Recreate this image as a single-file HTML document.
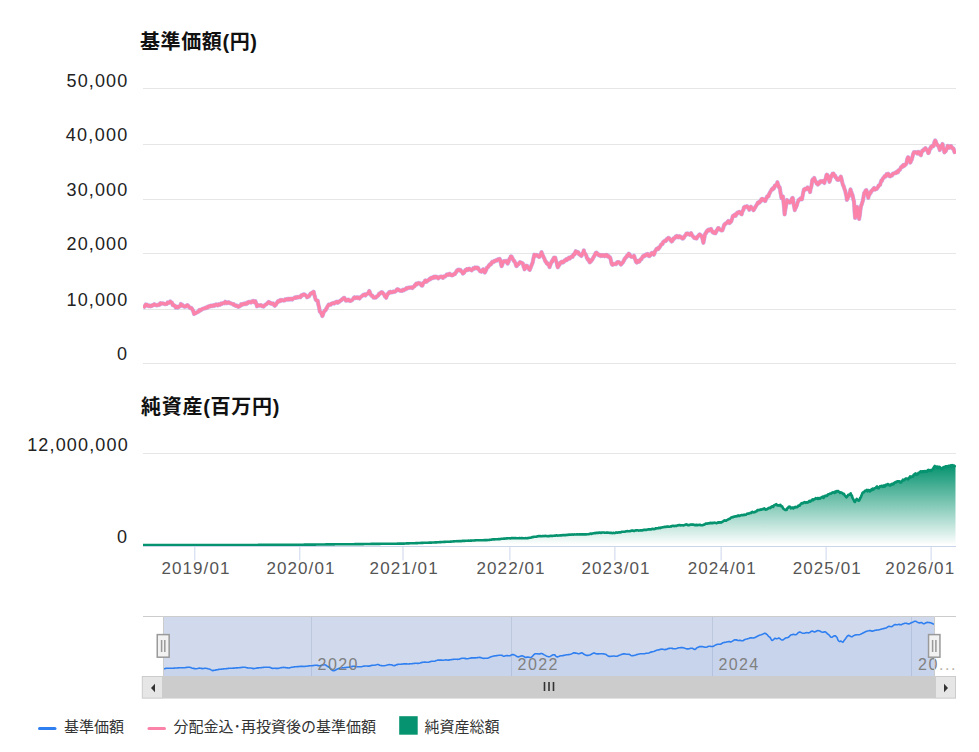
<!DOCTYPE html>
<html lang="ja"><head><meta charset="utf-8"><title>chart</title><style>
html,body{margin:0;padding:0;background:#fff;width:979px;height:752px;overflow:hidden}
svg{display:block;position:absolute;left:0;top:0}
text{font-family:"Liberation Sans","Noto Sans CJK JP",sans-serif}
.t{font-size:20px;font-weight:bold;fill:#111}
.yl{font-size:18px;fill:#222;text-anchor:end}
.xl{font-size:17px;fill:#555;text-anchor:middle}
.nl{font-size:16px;fill:#808080}
.lg{font-size:15px;fill:#333}
</style></head><body>
<svg width="979" height="752" viewBox="0 0 979 752">
<defs><linearGradient id="gg" x1="0" y1="0" x2="0" y2="1"><stop offset="0" stop-color="#06936f" stop-opacity="1"/><stop offset="1" stop-color="#06936f" stop-opacity="0"/></linearGradient><clipPath id="cp1"><rect x="143" y="60" width="813" height="310"/></clipPath><clipPath id="cp2"><rect x="143" y="440" width="813" height="106"/></clipPath></defs>
<text x="140" y="49.3" class="t" textLength="117" lengthAdjust="spacing">基準価額(円)</text>
<text x="141" y="413.9" class="t" textLength="138.5" lengthAdjust="spacing">純資産(百万円)</text>
<rect x="143" y="88" width="813" height="1" fill="#e6e6e6"/>
<rect x="143" y="144" width="813" height="1" fill="#e6e6e6"/>
<rect x="143" y="199" width="813" height="1" fill="#e6e6e6"/>
<rect x="143" y="253" width="813" height="1" fill="#e6e6e6"/>
<rect x="143" y="309" width="813" height="1" fill="#e6e6e6"/>
<rect x="143" y="363" width="813" height="1" fill="#e6e6e6"/>
<text x="127.2" y="86.6" class="yl" textLength="60.6" lengthAdjust="spacing">50,000</text>
<text x="127.2" y="140.9" class="yl" textLength="61.4" lengthAdjust="spacing">40,000</text>
<text x="127.2" y="195.6" class="yl" textLength="60.6" lengthAdjust="spacing">30,000</text>
<text x="127.2" y="249.8" class="yl" textLength="60.6" lengthAdjust="spacing">20,000</text>
<text x="127.2" y="305.7" class="yl" textLength="60.6" lengthAdjust="spacing">10,000</text>
<text x="127.0" y="360.0" class="yl">0</text>
<g clip-path="url(#cp1)">
<path d="M143.1,307.7L143.5,307.4L144.0,306.9L144.4,306.7L144.8,306.4L145.2,305.3L145.7,304.5L146.1,304.8L146.6,304.7L147.0,304.6L147.5,305.6L147.9,305.5L148.4,306.0L148.8,305.8L149.3,306.0L149.7,305.5L150.2,305.9L150.7,306.3L151.1,306.0L151.6,306.0L152.0,305.9L152.5,305.1L152.9,305.4L153.4,305.3L153.8,304.9L154.3,304.2L154.8,304.9L155.2,304.8L155.7,305.0L156.1,305.3L156.6,305.2L157.0,305.4L157.5,304.9L157.9,305.0L158.4,304.6L158.8,304.9L159.3,305.0L159.7,303.9L160.2,303.3L160.6,303.1L161.1,303.8L161.5,303.5L161.9,303.7L162.4,303.4L162.8,303.5L163.2,303.5L163.6,303.5L164.1,303.8L164.5,304.0L164.9,304.2L165.4,304.0L165.8,304.1L166.3,304.0L166.7,304.0L167.2,303.5L167.6,302.4L168.0,302.7L168.5,302.9L168.9,302.9L169.3,302.4L169.7,302.2L170.2,301.4L170.6,301.7L171.0,302.2L171.4,302.4L171.9,302.6L172.3,303.9L172.7,305.1L173.1,304.6L173.6,305.4L174.0,305.6L174.5,305.5L174.9,305.8L175.4,306.7L175.8,307.5L176.3,306.8L176.8,307.2L177.3,306.8L177.8,307.5L178.2,306.8L178.7,307.0L179.1,307.0L179.6,306.2L180.0,306.2L180.5,305.1L180.9,304.0L181.3,304.7L181.8,304.5L182.2,304.8L182.6,305.4L183.0,306.1L183.5,306.1L183.9,306.1L184.3,306.7L184.8,306.2L185.2,306.7L185.7,306.7L186.2,305.9L186.6,305.5L187.1,305.2L187.5,305.1L187.9,305.6L188.3,306.0L188.8,306.5L189.2,307.3L189.6,307.5L190.0,307.6L190.4,308.0L190.8,307.8L191.3,307.8L191.7,308.7L192.1,308.8L192.6,310.1L193.1,310.8L193.6,312.3L194.1,314.0L194.5,313.2L195.0,313.4L195.4,313.4L195.8,312.6L196.3,312.7L196.7,312.5L197.1,312.4L197.6,311.9L198.1,311.8L198.5,311.7L198.9,310.6L199.4,309.9L199.9,310.1L200.3,310.5L200.8,309.8L201.2,309.6L201.7,309.6L202.1,309.1L202.6,308.9L203.0,308.6L203.5,308.5L203.9,308.6L204.4,308.2L204.9,308.0L205.3,308.3L205.8,307.5L206.3,307.6L206.7,307.8L207.2,307.3L207.6,306.8L208.1,307.2L208.6,306.6L209.0,306.2L209.5,306.1L209.9,306.4L210.4,305.8L210.8,305.6L211.3,305.5L211.7,306.0L212.2,305.8L212.6,306.1L213.1,305.4L213.5,305.1L214.0,305.4L214.4,305.8L214.9,305.4L215.3,304.9L215.8,304.5L216.2,304.8L216.7,304.5L217.1,305.0L217.6,305.4L218.1,304.6L218.5,304.3L219.0,304.8L219.4,304.7L219.9,304.9L220.3,304.3L220.8,303.7L221.2,303.5L221.7,304.0L222.2,303.5L222.6,303.2L223.1,303.1L223.5,303.0L224.0,302.8L224.4,303.3L224.9,302.5L225.3,301.8L225.8,302.6L226.2,302.9L226.7,303.2L227.1,302.6L227.6,302.9L228.0,303.0L228.5,302.2L228.9,302.3L229.3,302.9L229.8,303.2L230.2,303.3L230.6,303.2L231.0,303.4L231.5,303.6L231.9,303.6L232.4,304.1L232.8,304.1L233.3,304.7L233.7,304.1L234.2,304.9L234.6,305.1L235.1,305.5L235.5,305.8L236.0,305.9L236.4,306.0L236.8,305.6L237.3,306.4L237.7,306.4L238.1,306.8L238.5,306.8L239.0,306.5L239.4,306.0L239.8,306.2L240.2,305.8L240.7,305.0L241.1,304.3L241.6,304.8L242.0,304.5L242.5,304.7L242.9,304.2L243.4,303.7L243.8,303.8L244.3,304.1L244.7,303.5L245.2,303.8L245.6,304.1L246.1,304.0L246.5,303.9L247.0,302.7L247.4,302.8L247.9,303.1L248.3,302.1L248.8,301.9L249.2,301.8L249.7,302.0L250.1,302.0L250.6,302.1L251.0,302.5L251.5,301.7L251.9,301.3L252.4,301.2L252.8,301.0L253.3,300.9L253.7,301.9L254.1,302.3L254.5,301.5L255.0,301.5L255.4,301.3L255.8,302.3L256.2,303.5L256.6,305.0L257.0,306.3L257.4,306.0L257.8,305.5L258.2,305.4L258.7,305.1L259.1,305.4L259.5,305.7L260.0,305.6L260.4,305.2L260.9,305.1L261.3,305.3L261.8,305.8L262.2,306.3L262.7,306.1L263.1,306.5L263.6,306.6L264.1,305.9L264.6,305.3L265.1,304.9L265.6,304.8L266.0,304.3L266.5,304.2L266.9,303.7L267.4,303.1L267.8,302.9L268.3,302.9L268.7,302.0L269.1,302.2L269.6,302.3L270.0,303.0L270.5,303.5L270.9,303.1L271.4,303.6L271.8,303.8L272.2,303.5L272.7,303.7L273.1,303.5L273.5,304.4L273.9,304.8L274.4,305.5L274.8,305.8L275.2,305.3L275.7,304.9L276.1,304.2L276.6,303.1L277.0,302.9L277.5,301.9L277.9,301.3L278.4,301.8L278.8,301.1L279.3,300.7L279.8,300.3L280.2,301.1L280.7,300.5L281.1,299.9L281.6,300.5L282.1,299.9L282.5,300.4L283.0,300.3L283.5,300.5L283.9,300.7L284.4,300.3L284.9,300.4L285.3,299.3L285.8,299.7L286.2,299.5L286.7,299.6L287.2,298.9L287.6,299.2L288.1,299.6L288.6,298.8L289.0,298.7L289.5,299.0L289.9,299.5L290.4,299.0L290.8,298.7L291.3,298.6L291.7,299.1L292.2,299.5L292.7,299.1L293.1,298.7L293.6,298.4L294.0,298.1L294.5,297.9L294.9,297.3L295.4,297.4L295.8,297.9L296.3,297.4L296.8,297.6L297.2,296.9L297.7,297.2L298.1,297.3L298.6,297.3L299.0,297.0L299.5,296.8L299.9,296.8L300.4,297.2L300.8,296.1L301.3,295.3L301.7,295.5L302.1,295.7L302.5,295.2L303.0,294.6L303.4,294.5L303.9,294.3L304.3,294.4L304.8,294.5L305.2,295.2L305.7,295.4L306.1,295.5L306.6,296.3L307.0,297.3L307.5,297.0L307.9,296.9L308.4,296.3L308.8,296.4L309.3,295.9L309.7,295.0L310.2,294.3L310.6,293.5L311.0,293.6L311.5,293.3L311.9,292.8L312.4,292.6L312.8,292.3L313.3,292.6L313.7,291.8L314.2,294.4L314.7,296.0L315.2,297.9L315.7,299.6L316.2,300.2L316.7,300.7L317.2,300.7L317.7,300.7L318.1,303.0L318.5,305.3L319.0,306.9L319.4,309.2L319.8,311.6L320.2,311.9L320.6,312.2L321.1,312.7L321.5,313.9L321.9,314.8L322.3,316.0L322.7,315.4L323.2,313.9L323.6,312.7L324.0,311.8L324.5,310.9L324.9,310.7L325.3,310.4L325.8,310.0L326.2,308.7L326.7,308.3L327.1,307.1L327.6,306.3L328.0,305.8L328.4,305.0L328.9,304.5L329.3,305.1L329.7,304.6L330.1,304.4L330.6,304.4L331.0,304.5L331.4,303.6L331.9,303.4L332.3,303.4L332.8,303.3L333.2,302.9L333.7,303.0L334.1,303.5L334.6,303.0L335.0,302.9L335.5,302.3L335.9,302.0L336.4,302.4L336.8,301.8L337.3,302.4L337.7,302.7L338.2,301.8L338.6,302.2L339.1,301.5L339.5,301.5L339.9,301.4L340.3,300.5L340.8,300.4L341.2,300.2L341.6,300.1L342.1,299.1L342.5,299.0L342.9,299.0L343.4,298.5L343.8,297.8L344.3,297.9L344.8,298.8L345.3,299.4L345.8,300.6L346.2,300.7L346.7,300.6L347.1,299.9L347.5,300.1L348.0,300.2L348.4,299.6L348.8,300.4L349.2,300.6L349.6,300.2L350.1,301.0L350.5,300.6L350.9,300.7L351.3,300.7L351.8,300.3L352.2,299.9L352.6,299.6L353.1,298.9L353.5,298.2L353.9,297.7L354.4,297.3L354.8,297.8L355.3,298.1L355.7,297.9L356.2,298.0L356.6,297.4L357.0,297.3L357.5,297.4L357.9,298.1L358.3,297.5L358.7,297.9L359.2,297.8L359.6,298.5L360.0,297.8L360.5,297.2L360.9,296.8L361.4,296.5L361.8,296.5L362.3,295.7L362.7,295.7L363.1,295.0L363.6,294.8L364.0,294.5L364.5,294.4L364.9,295.2L365.4,295.5L365.8,295.0L366.2,294.2L366.7,293.9L367.1,293.9L367.6,293.8L368.0,293.4L368.4,292.7L368.9,291.6L369.3,291.0L369.7,291.7L370.1,293.0L370.5,294.2L370.9,294.9L371.3,295.0L371.8,295.8L372.2,295.4L372.7,296.3L373.1,297.0L373.6,297.6L374.0,297.3L374.5,297.4L374.9,297.6L375.3,297.4L375.8,297.6L376.2,297.2L376.7,296.3L377.1,296.4L377.6,295.9L378.0,295.6L378.4,295.3L378.9,294.0L379.3,294.1L379.8,293.9L380.2,293.3L380.7,292.8L381.1,292.3L381.5,292.2L382.0,292.7L382.4,292.4L382.8,293.0L383.2,293.7L383.7,293.9L384.1,294.3L384.5,295.5L384.9,296.4L385.4,296.2L385.8,297.2L386.2,297.8L386.6,296.3L387.1,295.5L387.5,294.6L387.9,293.6L388.3,293.3L388.8,293.4L389.2,292.2L389.7,292.7L390.1,292.6L390.6,291.8L391.0,292.2L391.5,292.1L391.9,292.4L392.4,292.2L392.8,292.1L393.3,291.5L393.8,291.7L394.2,291.9L394.7,291.9L395.1,291.3L395.6,291.3L396.0,290.9L396.5,290.1L396.9,289.5L397.4,289.2L397.9,289.3L398.3,289.3L398.8,289.9L399.2,290.4L399.7,290.6L400.1,290.5L400.6,290.8L401.0,290.6L401.5,290.7L402.0,290.9L402.4,290.5L402.9,289.8L403.3,290.4L403.8,290.4L404.2,289.8L404.7,289.4L405.1,289.3L405.6,289.3L406.0,288.7L406.5,288.1L406.9,287.9L407.4,288.5L407.8,288.0L408.3,288.0L408.7,287.6L409.1,287.5L409.6,287.5L410.0,287.8L410.5,287.6L410.9,287.4L411.4,287.4L411.8,287.5L412.3,288.0L412.7,287.8L413.1,287.0L413.6,286.8L414.0,286.4L414.5,286.4L414.9,285.1L415.4,284.7L415.8,284.2L416.2,283.6L416.7,284.5L417.1,283.9L417.6,283.3L418.0,283.4L418.5,283.0L418.9,283.4L419.3,283.6L419.8,283.5L420.2,283.4L420.6,284.5L421.0,284.6L421.5,285.5L421.9,285.6L422.3,285.6L422.8,284.4L423.2,283.3L423.7,282.5L424.1,282.5L424.6,281.9L425.0,280.9L425.4,280.4L425.9,281.0L426.4,281.8L426.8,281.7L427.2,280.8L427.7,280.4L428.2,280.3L428.6,280.3L429.0,279.6L429.5,278.9L429.9,279.1L430.3,279.3L430.7,278.2L431.2,278.4L431.6,277.6L432.1,277.8L432.5,278.1L432.9,278.2L433.4,277.0L433.9,276.7L434.3,276.9L434.8,277.5L435.2,276.6L435.6,276.5L436.1,277.4L436.5,276.8L437.0,277.0L437.4,277.1L437.9,277.7L438.3,278.4L438.7,277.3L439.1,277.4L439.6,277.3L440.0,277.2L440.4,276.6L440.8,276.7L441.2,276.5L441.6,276.6L442.1,276.6L442.5,277.6L442.9,277.9L443.3,277.2L443.8,276.5L444.2,276.8L444.7,276.6L445.1,276.6L445.6,275.9L446.1,275.5L446.5,274.7L446.9,275.1L447.4,274.3L447.8,274.4L448.3,274.9L448.7,275.0L449.2,274.1L449.6,273.8L450.1,274.5L450.5,274.5L450.9,275.0L451.4,275.3L451.9,274.8L452.3,275.3L452.8,275.3L453.2,274.8L453.7,274.6L454.1,274.0L454.6,273.7L455.0,274.1L455.4,272.8L455.9,272.5L456.4,271.5L456.8,270.7L457.2,270.8L457.7,270.0L458.1,269.6L458.6,269.6L459.0,270.2L459.5,270.5L459.9,269.8L460.4,269.8L460.8,270.8L461.3,271.0L461.8,271.8L462.3,272.4L462.8,273.5L463.2,273.2L463.7,273.1L464.1,272.5L464.6,271.5L465.0,270.7L465.5,270.0L465.9,270.6L466.3,269.8L466.8,269.1L467.2,270.1L467.6,269.4L468.0,269.9L468.5,268.9L468.9,268.8L469.3,268.6L469.8,269.4L470.2,269.6L470.7,269.7L471.1,270.0L471.6,270.4L472.0,269.9L472.4,269.6L472.9,269.1L473.3,268.2L473.8,268.7L474.2,268.4L474.7,268.5L475.1,267.5L475.5,267.7L475.9,267.7L476.4,268.2L476.8,267.5L477.2,267.5L477.6,267.8L478.0,267.8L478.5,268.8L478.9,269.8L479.4,270.1L479.8,270.9L480.3,271.5L480.7,271.4L481.1,271.1L481.5,271.7L481.9,270.9L482.4,270.6L482.8,269.7L483.2,269.3L483.6,269.6L484.0,271.0L484.4,271.7L484.8,272.5L485.2,272.0L485.6,270.8L486.1,270.2L486.5,268.9L486.9,267.7L487.3,267.4L487.7,267.2L488.2,267.0L488.6,265.9L489.1,265.6L489.5,264.7L490.0,264.9L490.4,264.6L490.8,263.6L491.3,263.9L491.7,262.8L492.1,262.0L492.5,262.4L493.0,261.9L493.4,261.9L493.9,261.9L494.3,260.9L494.8,261.3L495.2,260.7L495.7,260.6L496.1,260.2L496.6,260.5L497.0,260.6L497.5,259.8L497.9,259.3L498.4,259.2L498.8,259.4L499.2,259.0L499.7,258.9L500.1,259.7L500.6,261.8L501.1,264.1L501.6,266.2L502.0,265.5L502.4,264.1L502.9,262.7L503.3,261.8L503.7,261.2L504.1,261.3L504.6,261.3L505.0,261.0L505.4,261.6L505.8,261.0L506.3,260.9L506.7,261.4L507.2,263.0L507.7,263.6L508.1,262.2L508.6,261.9L509.0,260.1L509.5,258.8L509.9,258.3L510.4,257.7L510.8,256.3L511.2,256.3L511.7,256.7L512.1,258.0L512.6,258.5L513.0,259.7L513.5,260.3L513.9,261.1L514.3,261.0L514.7,261.8L515.1,262.5L515.6,264.0L516.0,265.3L516.4,266.1L516.8,266.0L517.3,265.0L517.7,264.5L518.1,263.9L518.6,264.1L519.0,263.4L519.4,262.9L519.9,262.1L520.3,262.2L520.7,262.5L521.1,262.6L521.6,262.9L522.0,262.9L522.4,263.2L522.9,263.7L523.3,265.5L523.7,267.0L524.2,267.9L524.6,269.3L525.0,268.6L525.5,267.6L525.9,266.6L526.3,265.6L526.8,265.8L527.2,266.0L527.6,267.0L528.0,267.2L528.5,267.9L528.9,268.9L529.3,269.6L529.7,269.9L530.2,268.5L530.7,267.6L531.2,266.1L531.7,264.9L532.1,263.7L532.6,262.7L533.0,260.7L533.4,258.6L533.9,256.5L534.3,254.7L534.8,255.3L535.2,255.2L535.6,255.9L536.1,255.0L536.5,254.9L537.0,255.1L537.4,255.1L537.9,255.8L538.4,256.4L538.9,257.0L539.4,257.0L539.9,256.2L540.3,255.4L540.7,254.5L541.1,253.4L541.5,252.1L542.0,253.7L542.5,255.4L543.0,255.6L543.5,257.1L543.9,257.7L544.4,258.6L544.8,260.0L545.3,261.2L545.7,261.8L546.2,261.8L546.6,263.2L547.0,263.0L547.5,263.4L547.9,264.5L548.3,264.6L548.7,264.8L549.2,266.1L549.6,267.1L550.0,265.6L550.5,264.5L550.9,263.4L551.4,262.2L551.8,261.3L552.3,261.6L552.7,260.0L553.1,259.2L553.5,258.5L554.0,257.6L554.4,257.6L554.8,257.6L555.2,257.6L555.6,259.3L556.1,261.3L556.5,262.0L556.9,263.6L557.4,266.3L557.8,267.3L558.2,266.4L558.7,265.9L559.1,265.0L559.6,264.6L560.0,263.2L560.5,262.5L560.9,262.8L561.3,262.0L561.8,262.6L562.2,261.8L562.7,262.5L563.1,262.3L563.6,262.1L564.0,261.1L564.5,260.4L564.9,260.9L565.3,260.1L565.8,259.5L566.2,260.0L566.7,260.2L567.1,258.9L567.6,259.4L568.0,258.8L568.5,258.4L568.9,257.7L569.4,257.7L569.8,258.5L570.3,257.9L570.7,257.2L571.2,256.8L571.6,256.5L572.1,256.7L572.6,256.9L573.0,255.4L573.5,254.4L573.9,254.7L574.4,254.5L574.8,254.1L575.2,252.4L575.7,251.2L576.1,252.3L576.6,252.2L577.0,252.7L577.4,252.5L577.8,252.0L578.3,252.4L578.7,253.4L579.1,254.3L579.6,254.6L580.0,254.8L580.4,255.2L580.9,255.5L581.3,255.9L581.7,255.5L582.1,253.9L582.5,253.2L583.0,252.9L583.4,252.2L583.8,250.3L584.2,252.2L584.7,253.5L585.1,253.6L585.5,254.4L586.0,255.2L586.4,255.9L586.8,257.8L587.3,258.3L587.7,259.5L588.2,259.3L588.6,259.4L589.1,261.0L589.5,262.1L589.9,262.3L590.4,261.8L590.8,261.2L591.2,261.1L591.6,259.9L592.1,259.7L592.5,259.4L593.0,258.0L593.4,257.6L593.9,256.6L594.3,255.9L594.8,255.0L595.2,254.0L595.7,253.1L596.1,252.6L596.6,252.6L597.1,253.5L597.5,254.1L598.0,254.6L598.4,254.2L598.9,255.3L599.3,255.0L599.8,254.9L600.2,255.6L600.7,256.0L601.1,255.5L601.5,255.7L602.0,255.1L602.5,255.9L602.9,255.4L603.3,255.1L603.8,255.0L604.2,255.6L604.7,256.2L605.1,255.8L605.5,255.5L605.9,255.6L606.4,254.8L606.8,255.0L607.2,256.0L607.7,256.5L608.1,255.7L608.6,256.7L609.0,256.6L609.5,257.5L609.9,257.2L610.4,258.4L610.9,260.4L611.4,262.9L611.9,264.3L612.3,264.8L612.8,264.8L613.2,264.3L613.7,263.9L614.1,264.1L614.6,264.0L615.0,263.9L615.4,264.0L615.9,264.2L616.3,263.8L616.8,262.8L617.2,262.2L617.7,262.0L618.1,262.1L618.5,262.0L618.9,262.1L619.4,262.7L619.8,263.2L620.2,263.3L620.6,264.3L621.0,264.6L621.5,263.8L621.9,263.4L622.3,263.0L622.8,262.5L623.2,262.0L623.6,260.9L624.1,260.3L624.5,258.9L624.9,259.0L625.3,258.0L625.8,257.4L626.2,257.4L626.6,256.4L627.1,255.6L627.5,256.0L627.9,255.7L628.4,254.6L628.8,253.7L629.2,254.3L629.6,254.4L630.0,255.9L630.5,255.9L630.9,256.2L631.3,256.8L631.7,256.9L632.2,256.8L632.6,256.9L633.1,257.0L633.5,256.6L634.0,255.8L634.4,256.7L634.9,258.7L635.4,259.7L635.9,261.6L636.3,262.1L636.8,262.6L637.2,261.5L637.7,260.8L638.1,261.0L638.6,261.1L639.0,261.8L639.5,261.5L640.0,260.2L640.5,259.4L641.0,258.9L641.5,259.1L641.9,257.9L642.4,257.5L642.8,256.5L643.2,256.7L643.7,255.7L644.1,256.4L644.6,256.0L645.0,255.8L645.5,254.8L645.9,254.4L646.4,254.4L646.8,255.0L647.3,254.7L647.7,254.0L648.2,255.4L648.7,255.9L649.2,256.2L649.7,256.0L650.1,255.1L650.5,255.2L651.0,253.8L651.4,253.3L651.8,252.8L652.3,252.8L652.8,253.5L653.3,254.3L653.8,254.7L654.2,254.0L654.7,252.4L655.1,251.1L655.6,250.6L656.0,249.9L656.5,249.0L656.9,249.3L657.4,248.4L657.8,248.8L658.2,249.0L658.7,247.7L659.1,248.1L659.6,247.4L660.0,246.5L660.5,245.9L660.9,244.8L661.3,244.6L661.8,244.0L662.2,244.1L662.6,243.9L663.0,242.2L663.4,241.9L663.9,241.7L664.3,241.1L664.8,240.8L665.2,240.5L665.7,241.0L666.1,240.6L666.5,239.6L666.9,239.0L667.4,238.8L667.8,238.7L668.2,237.9L668.6,237.9L669.0,238.0L669.5,239.0L669.9,239.6L670.4,239.5L670.8,240.7L671.3,240.9L671.7,241.5L672.1,241.1L672.5,240.6L673.0,239.8L673.4,238.4L673.8,238.6L674.2,238.6L674.6,237.9L675.1,237.6L675.5,236.8L676.0,237.3L676.4,237.0L676.9,236.0L677.3,236.3L677.7,237.0L678.2,236.4L678.6,237.3L679.1,237.0L679.5,236.3L680.0,237.0L680.4,236.8L680.8,237.5L681.2,237.7L681.6,237.2L682.1,237.7L682.5,238.6L682.9,238.6L683.3,238.0L683.8,237.9L684.2,236.9L684.6,236.2L685.1,235.6L685.5,235.5L685.9,234.5L686.4,233.6L686.8,234.2L687.2,234.0L687.6,233.5L688.1,234.0L688.5,234.2L688.9,234.0L689.4,234.6L689.8,234.8L690.2,234.7L690.7,234.0L691.1,233.1L691.5,234.3L692.0,235.4L692.4,235.5L692.8,236.1L693.3,236.9L693.7,237.0L694.1,237.8L694.5,238.1L695.0,238.1L695.4,237.7L695.8,238.4L696.2,238.4L696.6,238.5L697.1,237.4L697.5,236.9L698.0,236.1L698.4,235.8L698.9,235.6L699.3,234.5L699.8,234.4L700.3,235.1L700.8,235.2L701.3,235.8L701.7,236.6L702.1,237.5L702.6,239.2L703.0,241.3L703.4,242.8L703.9,240.3L704.4,237.6L704.9,234.6L705.3,233.7L705.7,232.9L706.1,233.1L706.6,231.4L707.0,231.6L707.4,230.4L707.9,230.2L708.3,229.7L708.8,230.6L709.2,229.7L709.6,229.9L710.1,229.8L710.5,229.3L711.0,228.9L711.5,230.5L711.9,231.2L712.4,231.7L712.8,232.4L713.3,231.6L713.7,232.4L714.2,233.1L714.6,232.8L715.1,233.2L715.5,233.3L716.0,231.9L716.4,231.6L716.9,230.1L717.3,229.8L717.8,228.6L718.2,228.0L718.7,228.1L719.1,229.1L719.6,229.6L720.0,229.5L720.5,229.9L720.9,229.8L721.4,230.4L721.8,230.0L722.3,230.3L722.8,229.3L723.3,227.9L723.8,226.0L724.3,224.7L724.7,224.7L725.2,223.7L725.6,223.8L726.1,223.1L726.5,223.2L727.0,222.8L727.4,222.1L727.8,221.6L728.3,220.9L728.7,221.5L729.1,222.3L729.5,223.1L730.0,222.4L730.4,222.0L730.8,222.0L731.3,221.1L731.7,219.7L732.1,218.8L732.6,216.8L733.0,215.9L733.5,216.1L733.9,216.1L734.4,215.2L734.8,214.6L735.2,215.0L735.7,215.7L736.1,214.7L736.6,213.8L737.0,213.0L737.4,213.5L737.9,212.8L738.3,212.3L738.7,212.7L739.1,212.0L739.5,211.9L740.0,212.9L740.4,212.4L740.8,212.9L741.3,214.2L741.7,214.3L742.1,212.3L742.5,211.6L743.0,210.2L743.4,210.0L743.8,207.7L744.2,207.1L744.7,206.8L745.1,207.3L745.5,207.0L746.0,207.2L746.5,206.7L746.9,206.2L747.3,206.4L747.8,207.1L748.3,207.9L748.8,208.6L749.3,209.8L749.7,208.4L750.1,207.7L750.5,207.3L750.9,206.7L751.3,207.7L751.7,208.0L752.1,208.0L752.6,208.4L753.0,209.5L753.4,210.2L753.8,209.9L754.3,208.6L754.7,208.4L755.1,207.5L755.6,206.7L756.0,205.9L756.4,205.3L756.9,204.6L757.3,203.8L757.7,202.8L758.1,203.4L758.6,203.1L759.0,201.9L759.4,202.6L759.9,202.0L760.3,201.6L760.8,200.8L761.2,199.5L761.7,200.2L762.1,198.8L762.5,198.9L763.0,200.2L763.4,199.4L763.9,199.8L764.3,200.0L764.8,199.8L765.2,201.1L765.7,200.0L766.2,198.2L766.7,197.8L767.2,196.4L767.6,196.5L768.1,196.6L768.5,196.3L769.0,194.1L769.4,193.8L769.9,192.5L770.3,191.8L770.8,191.0L771.2,190.3L771.7,189.4L772.1,189.6L772.6,188.4L773.0,189.3L773.5,187.7L773.9,188.4L774.4,187.1L774.8,185.7L775.3,186.0L775.7,185.5L776.1,185.3L776.5,184.4L777.0,183.9L777.4,182.2L777.8,183.9L778.3,185.0L778.7,187.0L779.1,186.7L779.6,187.2L780.0,189.1L780.5,192.8L781.0,195.1L781.5,198.1L782.0,197.7L782.5,196.9L783.0,196.5L783.4,201.2L783.8,204.7L784.2,209.2L784.6,214.4L785.0,211.5L785.4,209.2L785.9,206.4L786.3,203.9L786.7,202.0L787.1,200.0L787.5,201.4L788.0,201.5L788.4,201.4L788.8,201.9L789.3,201.9L789.7,202.6L790.1,202.5L790.6,202.2L791.0,201.0L791.4,199.9L791.8,198.8L792.3,198.0L792.7,197.9L793.1,200.1L793.5,203.5L794.0,205.9L794.4,207.8L794.8,210.1L795.2,208.2L795.6,208.0L796.0,207.4L796.5,205.9L796.9,205.2L797.3,203.5L797.7,202.2L798.2,201.1L798.6,200.1L799.0,199.9L799.5,199.5L799.9,199.1L800.4,198.4L800.9,199.3L801.4,199.4L801.9,199.4L802.3,197.5L802.7,195.3L803.2,192.8L803.6,190.9L804.0,189.4L804.5,189.5L804.9,189.9L805.4,188.6L805.8,189.1L806.3,189.1L806.7,188.8L807.2,189.1L807.6,187.5L808.1,187.7L808.6,189.2L809.1,189.0L809.6,190.3L810.1,192.1L810.5,189.3L810.9,187.8L811.4,186.3L811.8,183.5L812.2,180.5L812.7,179.5L813.2,179.9L813.7,179.0L814.2,178.0L814.7,179.2L815.2,181.4L815.7,181.7L816.2,182.0L816.6,183.5L817.0,183.2L817.5,183.3L817.9,184.6L818.3,184.0L818.7,182.7L819.2,183.4L819.6,182.3L820.0,181.5L820.4,182.3L820.9,181.1L821.3,181.6L821.7,181.2L822.2,181.1L822.6,181.0L823.1,181.8L823.5,182.3L824.0,182.5L824.4,182.9L824.8,180.7L825.2,179.7L825.7,178.6L826.1,176.8L826.5,175.1L826.9,174.6L827.4,175.1L827.8,175.7L828.2,176.4L828.6,178.8L829.1,180.4L829.5,181.8L830.0,180.4L830.4,178.3L830.9,177.4L831.3,175.8L831.8,176.2L832.2,174.7L832.6,173.6L833.1,173.9L833.5,173.6L833.9,175.2L834.4,175.1L834.8,176.0L835.2,175.7L835.6,177.4L836.0,177.6L836.5,177.9L836.9,179.1L837.3,179.8L837.8,179.9L838.2,179.9L838.6,179.9L839.1,178.6L839.5,179.3L839.9,178.3L840.4,177.2L840.8,176.6L841.3,178.1L841.8,180.2L842.3,182.6L842.8,184.6L843.2,185.4L843.6,186.1L844.0,187.4L844.5,189.0L844.9,189.7L845.3,191.2L845.7,193.2L846.1,194.6L846.5,196.5L846.9,199.9L847.4,198.8L847.9,197.6L848.4,196.7L848.9,196.4L849.3,194.6L849.7,193.0L850.1,191.5L850.5,189.4L851.0,191.2L851.5,192.6L852.0,193.9L852.5,195.0L853.0,197.3L853.5,200.0L854.0,201.5L854.5,210.7L855.1,217.9L855.6,215.9L856.1,212.3L856.6,210.2L857.1,206.8L857.6,208.9L858.1,212.2L858.6,215.8L859.1,219.0L859.5,216.8L859.9,214.6L860.3,210.6L860.7,207.8L861.2,205.4L861.7,204.5L862.2,202.6L862.7,201.3L863.2,198.6L863.7,196.2L864.2,192.8L864.6,192.8L865.0,192.1L865.5,190.7L865.9,191.4L866.3,190.1L866.8,191.3L867.3,194.3L867.8,195.6L868.3,197.9L868.7,195.9L869.1,194.7L869.6,194.6L870.0,192.7L870.4,192.2L870.8,192.6L871.2,191.1L871.6,190.9L872.1,190.6L872.5,189.9L872.9,189.4L873.4,189.5L873.8,188.2L874.2,187.9L874.7,188.4L875.1,189.6L875.6,188.8L876.0,189.1L876.5,188.4L876.9,188.7L877.4,187.8L877.8,187.2L878.3,186.8L878.7,185.3L879.2,185.3L879.6,185.2L880.1,184.8L880.5,183.1L881.0,181.7L881.4,180.4L881.9,180.9L882.3,179.8L882.8,178.8L883.2,178.1L883.7,177.8L884.2,176.9L884.6,176.2L885.1,176.6L885.5,176.7L886.0,175.5L886.5,174.3L886.9,175.2L887.4,175.1L887.8,174.6L888.3,173.8L888.8,175.6L889.2,176.0L889.6,176.1L890.1,176.4L890.6,175.9L891.0,175.8L891.5,174.9L892.0,175.4L892.4,174.7L892.9,173.6L893.4,173.7L893.8,173.5L894.3,173.4L894.7,173.0L895.2,172.8L895.7,172.5L896.1,173.1L896.6,171.9L897.0,172.5L897.5,171.7L898.0,172.1L898.4,170.4L898.9,170.2L899.3,169.8L899.8,169.9L900.3,168.7L900.7,167.9L901.2,167.0L901.6,167.2L902.1,167.2L902.6,165.8L903.0,165.3L903.5,164.9L903.9,166.1L904.4,165.6L904.8,165.4L905.2,164.5L905.7,164.6L906.2,163.9L906.6,162.5L907.1,159.7L907.5,158.5L908.0,157.3L908.5,157.5L908.9,159.6L909.4,160.3L909.8,161.0L910.3,162.6L910.8,161.6L911.2,160.2L911.7,159.7L912.1,158.1L912.6,156.3L913.1,154.1L913.5,153.4L914.0,152.1L914.5,152.7L914.9,152.7L915.4,152.2L915.9,152.1L916.3,152.4L916.8,152.6L917.2,153.5L917.7,153.1L918.1,151.8L918.6,151.9L919.0,153.0L919.5,152.8L920.0,154.5L920.4,154.8L920.9,155.2L921.3,153.1L921.8,151.9L922.3,150.7L922.7,151.0L923.2,150.7L923.7,150.3L924.1,149.0L924.6,148.9L925.0,149.3L925.5,148.1L926.0,149.2L926.4,149.6L926.9,149.9L927.4,150.7L927.8,151.5L928.2,153.1L928.7,152.9L929.2,151.4L929.6,149.6L930.1,148.4L930.6,148.6L931.0,146.7L931.5,146.6L932.0,146.0L932.4,146.6L932.8,146.5L933.3,146.2L933.8,145.5L934.2,142.8L934.7,141.4L935.2,140.4L935.7,141.1L936.1,142.3L936.5,143.6L937.0,144.3L937.5,145.3L937.9,145.6L938.4,145.8L938.8,146.8L939.3,148.4L939.8,150.0L940.2,148.5L940.7,147.4L941.1,147.0L941.6,145.7L942.0,146.1L942.5,144.0L943.0,146.6L943.5,148.6L943.9,149.9L944.4,152.4L944.9,151.4L945.3,151.5L945.8,151.0L946.2,149.6L946.7,149.0L947.1,148.3L947.6,145.8L948.1,146.6L948.5,147.1L949.0,147.8L949.4,147.8L949.9,146.9L950.3,146.1L950.8,146.8L951.3,146.3L951.7,147.4L952.2,147.8L952.6,148.6L953.1,148.2L953.6,148.8L954.1,150.9L954.5,152.0L955.0,152.5L955.5,153.7" fill="none" stroke="#8d7ff0" stroke-opacity="0.5" stroke-width="4.2" stroke-linejoin="round"/>
<path d="M143.1,307.7L143.5,307.4L144.0,306.9L144.4,306.7L144.8,306.4L145.2,305.3L145.7,304.5L146.1,304.8L146.6,304.7L147.0,304.6L147.5,305.6L147.9,305.5L148.4,306.0L148.8,305.8L149.3,306.0L149.7,305.5L150.2,305.9L150.7,306.3L151.1,306.0L151.6,306.0L152.0,305.9L152.5,305.1L152.9,305.4L153.4,305.3L153.8,304.9L154.3,304.2L154.8,304.9L155.2,304.8L155.7,305.0L156.1,305.3L156.6,305.2L157.0,305.4L157.5,304.9L157.9,305.0L158.4,304.6L158.8,304.9L159.3,305.0L159.7,303.9L160.2,303.3L160.6,303.1L161.1,303.8L161.5,303.5L161.9,303.7L162.4,303.4L162.8,303.5L163.2,303.5L163.6,303.5L164.1,303.8L164.5,304.0L164.9,304.2L165.4,304.0L165.8,304.1L166.3,304.0L166.7,304.0L167.2,303.5L167.6,302.4L168.0,302.7L168.5,302.9L168.9,302.9L169.3,302.4L169.7,302.2L170.2,301.4L170.6,301.7L171.0,302.2L171.4,302.4L171.9,302.6L172.3,303.9L172.7,305.1L173.1,304.6L173.6,305.4L174.0,305.6L174.5,305.5L174.9,305.8L175.4,306.7L175.8,307.5L176.3,306.8L176.8,307.2L177.3,306.8L177.8,307.5L178.2,306.8L178.7,307.0L179.1,307.0L179.6,306.2L180.0,306.2L180.5,305.1L180.9,304.0L181.3,304.7L181.8,304.5L182.2,304.8L182.6,305.4L183.0,306.1L183.5,306.1L183.9,306.1L184.3,306.7L184.8,306.2L185.2,306.7L185.7,306.7L186.2,305.9L186.6,305.5L187.1,305.2L187.5,305.1L187.9,305.6L188.3,306.0L188.8,306.5L189.2,307.3L189.6,307.5L190.0,307.6L190.4,308.0L190.8,307.8L191.3,307.8L191.7,308.7L192.1,308.8L192.6,310.1L193.1,310.8L193.6,312.3L194.1,314.0L194.5,313.2L195.0,313.4L195.4,313.4L195.8,312.6L196.3,312.7L196.7,312.5L197.1,312.4L197.6,311.9L198.1,311.8L198.5,311.7L198.9,310.6L199.4,309.9L199.9,310.1L200.3,310.5L200.8,309.8L201.2,309.6L201.7,309.6L202.1,309.1L202.6,308.9L203.0,308.6L203.5,308.5L203.9,308.6L204.4,308.2L204.9,308.0L205.3,308.3L205.8,307.5L206.3,307.6L206.7,307.8L207.2,307.3L207.6,306.8L208.1,307.2L208.6,306.6L209.0,306.2L209.5,306.1L209.9,306.4L210.4,305.8L210.8,305.6L211.3,305.5L211.7,306.0L212.2,305.8L212.6,306.1L213.1,305.4L213.5,305.1L214.0,305.4L214.4,305.8L214.9,305.4L215.3,304.9L215.8,304.5L216.2,304.8L216.7,304.5L217.1,305.0L217.6,305.4L218.1,304.6L218.5,304.3L219.0,304.8L219.4,304.7L219.9,304.9L220.3,304.3L220.8,303.7L221.2,303.5L221.7,304.0L222.2,303.5L222.6,303.2L223.1,303.1L223.5,303.0L224.0,302.8L224.4,303.3L224.9,302.5L225.3,301.8L225.8,302.6L226.2,302.9L226.7,303.2L227.1,302.6L227.6,302.9L228.0,303.0L228.5,302.2L228.9,302.3L229.3,302.9L229.8,303.2L230.2,303.3L230.6,303.2L231.0,303.4L231.5,303.6L231.9,303.6L232.4,304.1L232.8,304.1L233.3,304.7L233.7,304.1L234.2,304.9L234.6,305.1L235.1,305.5L235.5,305.8L236.0,305.9L236.4,306.0L236.8,305.6L237.3,306.4L237.7,306.4L238.1,306.8L238.5,306.8L239.0,306.5L239.4,306.0L239.8,306.2L240.2,305.8L240.7,305.0L241.1,304.3L241.6,304.8L242.0,304.5L242.5,304.7L242.9,304.2L243.4,303.7L243.8,303.8L244.3,304.1L244.7,303.5L245.2,303.8L245.6,304.1L246.1,304.0L246.5,303.9L247.0,302.7L247.4,302.8L247.9,303.1L248.3,302.1L248.8,301.9L249.2,301.8L249.7,302.0L250.1,302.0L250.6,302.1L251.0,302.5L251.5,301.7L251.9,301.3L252.4,301.2L252.8,301.0L253.3,300.9L253.7,301.9L254.1,302.3L254.5,301.5L255.0,301.5L255.4,301.3L255.8,302.3L256.2,303.5L256.6,305.0L257.0,306.3L257.4,306.0L257.8,305.5L258.2,305.4L258.7,305.1L259.1,305.4L259.5,305.7L260.0,305.6L260.4,305.2L260.9,305.1L261.3,305.3L261.8,305.8L262.2,306.3L262.7,306.1L263.1,306.5L263.6,306.6L264.1,305.9L264.6,305.3L265.1,304.9L265.6,304.8L266.0,304.3L266.5,304.2L266.9,303.7L267.4,303.1L267.8,302.9L268.3,302.9L268.7,302.0L269.1,302.2L269.6,302.3L270.0,303.0L270.5,303.5L270.9,303.1L271.4,303.6L271.8,303.8L272.2,303.5L272.7,303.7L273.1,303.5L273.5,304.4L273.9,304.8L274.4,305.5L274.8,305.8L275.2,305.3L275.7,304.9L276.1,304.2L276.6,303.1L277.0,302.9L277.5,301.9L277.9,301.3L278.4,301.8L278.8,301.1L279.3,300.7L279.8,300.3L280.2,301.1L280.7,300.5L281.1,299.9L281.6,300.5L282.1,299.9L282.5,300.4L283.0,300.3L283.5,300.5L283.9,300.7L284.4,300.3L284.9,300.4L285.3,299.3L285.8,299.7L286.2,299.5L286.7,299.6L287.2,298.9L287.6,299.2L288.1,299.6L288.6,298.8L289.0,298.7L289.5,299.0L289.9,299.5L290.4,299.0L290.8,298.7L291.3,298.6L291.7,299.1L292.2,299.5L292.7,299.1L293.1,298.7L293.6,298.4L294.0,298.1L294.5,297.9L294.9,297.3L295.4,297.4L295.8,297.9L296.3,297.4L296.8,297.6L297.2,296.9L297.7,297.2L298.1,297.3L298.6,297.3L299.0,297.0L299.5,296.8L299.9,296.8L300.4,297.2L300.8,296.1L301.3,295.3L301.7,295.5L302.1,295.7L302.5,295.2L303.0,294.6L303.4,294.5L303.9,294.3L304.3,294.4L304.8,294.5L305.2,295.2L305.7,295.4L306.1,295.5L306.6,296.3L307.0,297.3L307.5,297.0L307.9,296.9L308.4,296.3L308.8,296.4L309.3,295.9L309.7,295.0L310.2,294.3L310.6,293.5L311.0,293.6L311.5,293.3L311.9,292.8L312.4,292.6L312.8,292.3L313.3,292.6L313.7,291.8L314.2,294.4L314.7,296.0L315.2,297.9L315.7,299.6L316.2,300.2L316.7,300.7L317.2,300.7L317.7,300.7L318.1,303.0L318.5,305.3L319.0,306.9L319.4,309.2L319.8,311.6L320.2,311.9L320.6,312.2L321.1,312.7L321.5,313.9L321.9,314.8L322.3,316.0L322.7,315.4L323.2,313.9L323.6,312.7L324.0,311.8L324.5,310.9L324.9,310.7L325.3,310.4L325.8,310.0L326.2,308.7L326.7,308.3L327.1,307.1L327.6,306.3L328.0,305.8L328.4,305.0L328.9,304.5L329.3,305.1L329.7,304.6L330.1,304.4L330.6,304.4L331.0,304.5L331.4,303.6L331.9,303.4L332.3,303.4L332.8,303.3L333.2,302.9L333.7,303.0L334.1,303.5L334.6,303.0L335.0,302.9L335.5,302.3L335.9,302.0L336.4,302.4L336.8,301.8L337.3,302.4L337.7,302.7L338.2,301.8L338.6,302.2L339.1,301.5L339.5,301.5L339.9,301.4L340.3,300.5L340.8,300.4L341.2,300.2L341.6,300.1L342.1,299.1L342.5,299.0L342.9,299.0L343.4,298.5L343.8,297.8L344.3,297.9L344.8,298.8L345.3,299.4L345.8,300.6L346.2,300.7L346.7,300.6L347.1,299.9L347.5,300.1L348.0,300.2L348.4,299.6L348.8,300.4L349.2,300.6L349.6,300.2L350.1,301.0L350.5,300.6L350.9,300.7L351.3,300.7L351.8,300.3L352.2,299.9L352.6,299.6L353.1,298.9L353.5,298.2L353.9,297.7L354.4,297.3L354.8,297.8L355.3,298.1L355.7,297.9L356.2,298.0L356.6,297.4L357.0,297.3L357.5,297.4L357.9,298.1L358.3,297.5L358.7,297.9L359.2,297.8L359.6,298.5L360.0,297.8L360.5,297.2L360.9,296.8L361.4,296.5L361.8,296.5L362.3,295.7L362.7,295.7L363.1,295.0L363.6,294.8L364.0,294.5L364.5,294.4L364.9,295.2L365.4,295.5L365.8,295.0L366.2,294.2L366.7,293.9L367.1,293.9L367.6,293.8L368.0,293.4L368.4,292.7L368.9,291.6L369.3,291.0L369.7,291.7L370.1,293.0L370.5,294.2L370.9,294.9L371.3,295.0L371.8,295.8L372.2,295.4L372.7,296.3L373.1,297.0L373.6,297.6L374.0,297.3L374.5,297.4L374.9,297.6L375.3,297.4L375.8,297.6L376.2,297.2L376.7,296.3L377.1,296.4L377.6,295.9L378.0,295.6L378.4,295.3L378.9,294.0L379.3,294.1L379.8,293.9L380.2,293.3L380.7,292.8L381.1,292.3L381.5,292.2L382.0,292.7L382.4,292.4L382.8,293.0L383.2,293.7L383.7,293.9L384.1,294.3L384.5,295.5L384.9,296.4L385.4,296.2L385.8,297.2L386.2,297.8L386.6,296.3L387.1,295.5L387.5,294.6L387.9,293.6L388.3,293.3L388.8,293.4L389.2,292.2L389.7,292.7L390.1,292.6L390.6,291.8L391.0,292.2L391.5,292.1L391.9,292.4L392.4,292.2L392.8,292.1L393.3,291.5L393.8,291.7L394.2,291.9L394.7,291.9L395.1,291.3L395.6,291.3L396.0,290.9L396.5,290.1L396.9,289.5L397.4,289.2L397.9,289.3L398.3,289.3L398.8,289.9L399.2,290.4L399.7,290.6L400.1,290.5L400.6,290.8L401.0,290.6L401.5,290.7L402.0,290.9L402.4,290.5L402.9,289.8L403.3,290.4L403.8,290.4L404.2,289.8L404.7,289.4L405.1,289.3L405.6,289.3L406.0,288.7L406.5,288.1L406.9,287.9L407.4,288.5L407.8,288.0L408.3,288.0L408.7,287.6L409.1,287.5L409.6,287.5L410.0,287.8L410.5,287.6L410.9,287.4L411.4,287.4L411.8,287.5L412.3,288.0L412.7,287.8L413.1,287.0L413.6,286.8L414.0,286.4L414.5,286.4L414.9,285.1L415.4,284.7L415.8,284.2L416.2,283.6L416.7,284.5L417.1,283.9L417.6,283.3L418.0,283.4L418.5,283.0L418.9,283.4L419.3,283.6L419.8,283.5L420.2,283.4L420.6,284.5L421.0,284.6L421.5,285.5L421.9,285.6L422.3,285.6L422.8,284.4L423.2,283.3L423.7,282.5L424.1,282.5L424.6,281.9L425.0,280.9L425.4,280.4L425.9,281.0L426.4,281.8L426.8,281.7L427.2,280.8L427.7,280.4L428.2,280.3L428.6,280.3L429.0,279.6L429.5,278.9L429.9,279.1L430.3,279.3L430.7,278.2L431.2,278.4L431.6,277.6L432.1,277.8L432.5,278.1L432.9,278.2L433.4,277.0L433.9,276.7L434.3,276.9L434.8,277.5L435.2,276.6L435.6,276.5L436.1,277.4L436.5,276.8L437.0,277.0L437.4,277.1L437.9,277.7L438.3,278.4L438.7,277.3L439.1,277.4L439.6,277.3L440.0,277.2L440.4,276.6L440.8,276.7L441.2,276.5L441.6,276.6L442.1,276.6L442.5,277.6L442.9,277.9L443.3,277.2L443.8,276.5L444.2,276.8L444.7,276.6L445.1,276.6L445.6,275.9L446.1,275.5L446.5,274.7L446.9,275.1L447.4,274.3L447.8,274.4L448.3,274.9L448.7,275.0L449.2,274.1L449.6,273.8L450.1,274.5L450.5,274.5L450.9,275.0L451.4,275.3L451.9,274.8L452.3,275.3L452.8,275.3L453.2,274.8L453.7,274.6L454.1,274.0L454.6,273.7L455.0,274.1L455.4,272.8L455.9,272.5L456.4,271.5L456.8,270.7L457.2,270.8L457.7,270.0L458.1,269.6L458.6,269.6L459.0,270.2L459.5,270.5L459.9,269.8L460.4,269.8L460.8,270.8L461.3,271.0L461.8,271.8L462.3,272.4L462.8,273.5L463.2,273.2L463.7,273.1L464.1,272.5L464.6,271.5L465.0,270.7L465.5,270.0L465.9,270.6L466.3,269.8L466.8,269.1L467.2,270.1L467.6,269.4L468.0,269.9L468.5,268.9L468.9,268.8L469.3,268.6L469.8,269.4L470.2,269.6L470.7,269.7L471.1,270.0L471.6,270.4L472.0,269.9L472.4,269.6L472.9,269.1L473.3,268.2L473.8,268.7L474.2,268.4L474.7,268.5L475.1,267.5L475.5,267.7L475.9,267.7L476.4,268.2L476.8,267.5L477.2,267.5L477.6,267.8L478.0,267.8L478.5,268.8L478.9,269.8L479.4,270.1L479.8,270.9L480.3,271.5L480.7,271.4L481.1,271.1L481.5,271.7L481.9,270.9L482.4,270.6L482.8,269.7L483.2,269.3L483.6,269.6L484.0,271.0L484.4,271.7L484.8,272.5L485.2,272.0L485.6,270.8L486.1,270.2L486.5,268.9L486.9,267.7L487.3,267.4L487.7,267.2L488.2,267.0L488.6,265.9L489.1,265.6L489.5,264.7L490.0,264.9L490.4,264.6L490.8,263.6L491.3,263.9L491.7,262.8L492.1,262.0L492.5,262.4L493.0,261.9L493.4,261.9L493.9,261.9L494.3,260.9L494.8,261.3L495.2,260.7L495.7,260.6L496.1,260.2L496.6,260.5L497.0,260.6L497.5,259.8L497.9,259.3L498.4,259.2L498.8,259.4L499.2,259.0L499.7,258.9L500.1,259.7L500.6,261.8L501.1,264.1L501.6,266.2L502.0,265.5L502.4,264.1L502.9,262.7L503.3,261.8L503.7,261.2L504.1,261.3L504.6,261.3L505.0,261.0L505.4,261.6L505.8,261.0L506.3,260.9L506.7,261.4L507.2,263.0L507.7,263.6L508.1,262.2L508.6,261.9L509.0,260.1L509.5,258.8L509.9,258.3L510.4,257.7L510.8,256.3L511.2,256.3L511.7,256.7L512.1,258.0L512.6,258.5L513.0,259.7L513.5,260.3L513.9,261.1L514.3,261.0L514.7,261.8L515.1,262.5L515.6,264.0L516.0,265.3L516.4,266.1L516.8,266.0L517.3,265.0L517.7,264.5L518.1,263.9L518.6,264.1L519.0,263.4L519.4,262.9L519.9,262.1L520.3,262.2L520.7,262.5L521.1,262.6L521.6,262.9L522.0,262.9L522.4,263.2L522.9,263.7L523.3,265.5L523.7,267.0L524.2,267.9L524.6,269.3L525.0,268.6L525.5,267.6L525.9,266.6L526.3,265.6L526.8,265.8L527.2,266.0L527.6,267.0L528.0,267.2L528.5,267.9L528.9,268.9L529.3,269.6L529.7,269.9L530.2,268.5L530.7,267.6L531.2,266.1L531.7,264.9L532.1,263.7L532.6,262.7L533.0,260.7L533.4,258.6L533.9,256.5L534.3,254.7L534.8,255.3L535.2,255.2L535.6,255.9L536.1,255.0L536.5,254.9L537.0,255.1L537.4,255.1L537.9,255.8L538.4,256.4L538.9,257.0L539.4,257.0L539.9,256.2L540.3,255.4L540.7,254.5L541.1,253.4L541.5,252.1L542.0,253.7L542.5,255.4L543.0,255.6L543.5,257.1L543.9,257.7L544.4,258.6L544.8,260.0L545.3,261.2L545.7,261.8L546.2,261.8L546.6,263.2L547.0,263.0L547.5,263.4L547.9,264.5L548.3,264.6L548.7,264.8L549.2,266.1L549.6,267.1L550.0,265.6L550.5,264.5L550.9,263.4L551.4,262.2L551.8,261.3L552.3,261.6L552.7,260.0L553.1,259.2L553.5,258.5L554.0,257.6L554.4,257.6L554.8,257.6L555.2,257.6L555.6,259.3L556.1,261.3L556.5,262.0L556.9,263.6L557.4,266.3L557.8,267.3L558.2,266.4L558.7,265.9L559.1,265.0L559.6,264.6L560.0,263.2L560.5,262.5L560.9,262.8L561.3,262.0L561.8,262.6L562.2,261.8L562.7,262.5L563.1,262.3L563.6,262.1L564.0,261.1L564.5,260.4L564.9,260.9L565.3,260.1L565.8,259.5L566.2,260.0L566.7,260.2L567.1,258.9L567.6,259.4L568.0,258.8L568.5,258.4L568.9,257.7L569.4,257.7L569.8,258.5L570.3,257.9L570.7,257.2L571.2,256.8L571.6,256.5L572.1,256.7L572.6,256.9L573.0,255.4L573.5,254.4L573.9,254.7L574.4,254.5L574.8,254.1L575.2,252.4L575.7,251.2L576.1,252.3L576.6,252.2L577.0,252.7L577.4,252.5L577.8,252.0L578.3,252.4L578.7,253.4L579.1,254.3L579.6,254.6L580.0,254.8L580.4,255.2L580.9,255.5L581.3,255.9L581.7,255.5L582.1,253.9L582.5,253.2L583.0,252.9L583.4,252.2L583.8,250.3L584.2,252.2L584.7,253.5L585.1,253.6L585.5,254.4L586.0,255.2L586.4,255.9L586.8,257.8L587.3,258.3L587.7,259.5L588.2,259.3L588.6,259.4L589.1,261.0L589.5,262.1L589.9,262.3L590.4,261.8L590.8,261.2L591.2,261.1L591.6,259.9L592.1,259.7L592.5,259.4L593.0,258.0L593.4,257.6L593.9,256.6L594.3,255.9L594.8,255.0L595.2,254.0L595.7,253.1L596.1,252.6L596.6,252.6L597.1,253.5L597.5,254.1L598.0,254.6L598.4,254.2L598.9,255.3L599.3,255.0L599.8,254.9L600.2,255.6L600.7,256.0L601.1,255.5L601.5,255.7L602.0,255.1L602.5,255.9L602.9,255.4L603.3,255.1L603.8,255.0L604.2,255.6L604.7,256.2L605.1,255.8L605.5,255.5L605.9,255.6L606.4,254.8L606.8,255.0L607.2,256.0L607.7,256.5L608.1,255.7L608.6,256.7L609.0,256.6L609.5,257.5L609.9,257.2L610.4,258.4L610.9,260.4L611.4,262.9L611.9,264.3L612.3,264.8L612.8,264.8L613.2,264.3L613.7,263.9L614.1,264.1L614.6,264.0L615.0,263.9L615.4,264.0L615.9,264.2L616.3,263.8L616.8,262.8L617.2,262.2L617.7,262.0L618.1,262.1L618.5,262.0L618.9,262.1L619.4,262.7L619.8,263.2L620.2,263.3L620.6,264.3L621.0,264.6L621.5,263.8L621.9,263.4L622.3,263.0L622.8,262.5L623.2,262.0L623.6,260.9L624.1,260.3L624.5,258.9L624.9,259.0L625.3,258.0L625.8,257.4L626.2,257.4L626.6,256.4L627.1,255.6L627.5,256.0L627.9,255.7L628.4,254.6L628.8,253.7L629.2,254.3L629.6,254.4L630.0,255.9L630.5,255.9L630.9,256.2L631.3,256.8L631.7,256.9L632.2,256.8L632.6,256.9L633.1,257.0L633.5,256.6L634.0,255.8L634.4,256.7L634.9,258.7L635.4,259.7L635.9,261.6L636.3,262.1L636.8,262.6L637.2,261.5L637.7,260.8L638.1,261.0L638.6,261.1L639.0,261.8L639.5,261.5L640.0,260.2L640.5,259.4L641.0,258.9L641.5,259.1L641.9,257.9L642.4,257.5L642.8,256.5L643.2,256.7L643.7,255.7L644.1,256.4L644.6,256.0L645.0,255.8L645.5,254.8L645.9,254.4L646.4,254.4L646.8,255.0L647.3,254.7L647.7,254.0L648.2,255.4L648.7,255.9L649.2,256.2L649.7,256.0L650.1,255.1L650.5,255.2L651.0,253.8L651.4,253.3L651.8,252.8L652.3,252.8L652.8,253.5L653.3,254.3L653.8,254.7L654.2,254.0L654.7,252.4L655.1,251.1L655.6,250.6L656.0,249.9L656.5,249.0L656.9,249.3L657.4,248.4L657.8,248.8L658.2,249.0L658.7,247.7L659.1,248.1L659.6,247.4L660.0,246.5L660.5,245.9L660.9,244.8L661.3,244.6L661.8,244.0L662.2,244.1L662.6,243.9L663.0,242.2L663.4,241.9L663.9,241.7L664.3,241.1L664.8,240.8L665.2,240.5L665.7,241.0L666.1,240.6L666.5,239.6L666.9,239.0L667.4,238.8L667.8,238.7L668.2,237.9L668.6,237.9L669.0,238.0L669.5,239.0L669.9,239.6L670.4,239.5L670.8,240.7L671.3,240.9L671.7,241.5L672.1,241.1L672.5,240.6L673.0,239.8L673.4,238.4L673.8,238.6L674.2,238.6L674.6,237.9L675.1,237.6L675.5,236.8L676.0,237.3L676.4,237.0L676.9,236.0L677.3,236.3L677.7,237.0L678.2,236.4L678.6,237.3L679.1,237.0L679.5,236.3L680.0,237.0L680.4,236.8L680.8,237.5L681.2,237.7L681.6,237.2L682.1,237.7L682.5,238.6L682.9,238.6L683.3,238.0L683.8,237.9L684.2,236.9L684.6,236.2L685.1,235.6L685.5,235.5L685.9,234.5L686.4,233.6L686.8,234.2L687.2,234.0L687.6,233.5L688.1,234.0L688.5,234.2L688.9,234.0L689.4,234.6L689.8,234.8L690.2,234.7L690.7,234.0L691.1,233.1L691.5,234.3L692.0,235.4L692.4,235.5L692.8,236.1L693.3,236.9L693.7,237.0L694.1,237.8L694.5,238.1L695.0,238.1L695.4,237.7L695.8,238.4L696.2,238.4L696.6,238.5L697.1,237.4L697.5,236.9L698.0,236.1L698.4,235.8L698.9,235.6L699.3,234.5L699.8,234.4L700.3,235.1L700.8,235.2L701.3,235.8L701.7,236.6L702.1,237.5L702.6,239.2L703.0,241.3L703.4,242.8L703.9,240.3L704.4,237.6L704.9,234.6L705.3,233.7L705.7,232.9L706.1,233.1L706.6,231.4L707.0,231.6L707.4,230.4L707.9,230.2L708.3,229.7L708.8,230.6L709.2,229.7L709.6,229.9L710.1,229.8L710.5,229.3L711.0,228.9L711.5,230.5L711.9,231.2L712.4,231.7L712.8,232.4L713.3,231.6L713.7,232.4L714.2,233.1L714.6,232.8L715.1,233.2L715.5,233.3L716.0,231.9L716.4,231.6L716.9,230.1L717.3,229.8L717.8,228.6L718.2,228.0L718.7,228.1L719.1,229.1L719.6,229.6L720.0,229.5L720.5,229.9L720.9,229.8L721.4,230.4L721.8,230.0L722.3,230.3L722.8,229.3L723.3,227.9L723.8,226.0L724.3,224.7L724.7,224.7L725.2,223.7L725.6,223.8L726.1,223.1L726.5,223.2L727.0,222.8L727.4,222.1L727.8,221.6L728.3,220.9L728.7,221.5L729.1,222.3L729.5,223.1L730.0,222.4L730.4,222.0L730.8,222.0L731.3,221.1L731.7,219.7L732.1,218.8L732.6,216.8L733.0,215.9L733.5,216.1L733.9,216.1L734.4,215.2L734.8,214.6L735.2,215.0L735.7,215.7L736.1,214.7L736.6,213.8L737.0,213.0L737.4,213.5L737.9,212.8L738.3,212.3L738.7,212.7L739.1,212.0L739.5,211.9L740.0,212.9L740.4,212.4L740.8,212.9L741.3,214.2L741.7,214.3L742.1,212.3L742.5,211.6L743.0,210.2L743.4,210.0L743.8,207.7L744.2,207.1L744.7,206.8L745.1,207.3L745.5,207.0L746.0,207.2L746.5,206.7L746.9,206.2L747.3,206.4L747.8,207.1L748.3,207.9L748.8,208.6L749.3,209.8L749.7,208.4L750.1,207.7L750.5,207.3L750.9,206.7L751.3,207.7L751.7,208.0L752.1,208.0L752.6,208.4L753.0,209.5L753.4,210.2L753.8,209.9L754.3,208.6L754.7,208.4L755.1,207.5L755.6,206.7L756.0,205.9L756.4,205.3L756.9,204.6L757.3,203.8L757.7,202.8L758.1,203.4L758.6,203.1L759.0,201.9L759.4,202.6L759.9,202.0L760.3,201.6L760.8,200.8L761.2,199.5L761.7,200.2L762.1,198.8L762.5,198.9L763.0,200.2L763.4,199.4L763.9,199.8L764.3,200.0L764.8,199.8L765.2,201.1L765.7,200.0L766.2,198.2L766.7,197.8L767.2,196.4L767.6,196.5L768.1,196.6L768.5,196.3L769.0,194.1L769.4,193.8L769.9,192.5L770.3,191.8L770.8,191.0L771.2,190.3L771.7,189.4L772.1,189.6L772.6,188.4L773.0,189.3L773.5,187.7L773.9,188.4L774.4,187.1L774.8,185.7L775.3,186.0L775.7,185.5L776.1,185.3L776.5,184.4L777.0,183.9L777.4,182.2L777.8,183.9L778.3,185.0L778.7,187.0L779.1,186.7L779.6,187.2L780.0,189.1L780.5,192.8L781.0,195.1L781.5,198.1L782.0,197.7L782.5,196.9L783.0,196.5L783.4,201.2L783.8,204.7L784.2,209.2L784.6,214.4L785.0,211.5L785.4,209.2L785.9,206.4L786.3,203.9L786.7,202.0L787.1,200.0L787.5,201.4L788.0,201.5L788.4,201.4L788.8,201.9L789.3,201.9L789.7,202.6L790.1,202.5L790.6,202.2L791.0,201.0L791.4,199.9L791.8,198.8L792.3,198.0L792.7,197.9L793.1,200.1L793.5,203.5L794.0,205.9L794.4,207.8L794.8,210.1L795.2,208.2L795.6,208.0L796.0,207.4L796.5,205.9L796.9,205.2L797.3,203.5L797.7,202.2L798.2,201.1L798.6,200.1L799.0,199.9L799.5,199.5L799.9,199.1L800.4,198.4L800.9,199.3L801.4,199.4L801.9,199.4L802.3,197.5L802.7,195.3L803.2,192.8L803.6,190.9L804.0,189.4L804.5,189.5L804.9,189.9L805.4,188.6L805.8,189.1L806.3,189.1L806.7,188.8L807.2,189.1L807.6,187.5L808.1,187.7L808.6,189.2L809.1,189.0L809.6,190.3L810.1,192.1L810.5,189.3L810.9,187.8L811.4,186.3L811.8,183.5L812.2,180.5L812.7,179.5L813.2,179.9L813.7,179.0L814.2,178.0L814.7,179.2L815.2,181.4L815.7,181.7L816.2,182.0L816.6,183.5L817.0,183.2L817.5,183.3L817.9,184.6L818.3,184.0L818.7,182.7L819.2,183.4L819.6,182.3L820.0,181.5L820.4,182.3L820.9,181.1L821.3,181.6L821.7,181.2L822.2,181.1L822.6,181.0L823.1,181.8L823.5,182.3L824.0,182.5L824.4,182.9L824.8,180.7L825.2,179.7L825.7,178.6L826.1,176.8L826.5,175.1L826.9,174.6L827.4,175.1L827.8,175.7L828.2,176.4L828.6,178.8L829.1,180.4L829.5,181.8L830.0,180.4L830.4,178.3L830.9,177.4L831.3,175.8L831.8,176.2L832.2,174.7L832.6,173.6L833.1,173.9L833.5,173.6L833.9,175.2L834.4,175.1L834.8,176.0L835.2,175.7L835.6,177.4L836.0,177.6L836.5,177.9L836.9,179.1L837.3,179.8L837.8,179.9L838.2,179.9L838.6,179.9L839.1,178.6L839.5,179.3L839.9,178.3L840.4,177.2L840.8,176.6L841.3,178.1L841.8,180.2L842.3,182.6L842.8,184.6L843.2,185.4L843.6,186.1L844.0,187.4L844.5,189.0L844.9,189.7L845.3,191.2L845.7,193.2L846.1,194.6L846.5,196.5L846.9,199.9L847.4,198.8L847.9,197.6L848.4,196.7L848.9,196.4L849.3,194.6L849.7,193.0L850.1,191.5L850.5,189.4L851.0,191.2L851.5,192.6L852.0,193.9L852.5,195.0L853.0,197.3L853.5,200.0L854.0,201.5L854.5,210.7L855.1,217.9L855.6,215.9L856.1,212.3L856.6,210.2L857.1,206.8L857.6,208.9L858.1,212.2L858.6,215.8L859.1,219.0L859.5,216.8L859.9,214.6L860.3,210.6L860.7,207.8L861.2,205.4L861.7,204.5L862.2,202.6L862.7,201.3L863.2,198.6L863.7,196.2L864.2,192.8L864.6,192.8L865.0,192.1L865.5,190.7L865.9,191.4L866.3,190.1L866.8,191.3L867.3,194.3L867.8,195.6L868.3,197.9L868.7,195.9L869.1,194.7L869.6,194.6L870.0,192.7L870.4,192.2L870.8,192.6L871.2,191.1L871.6,190.9L872.1,190.6L872.5,189.9L872.9,189.4L873.4,189.5L873.8,188.2L874.2,187.9L874.7,188.4L875.1,189.6L875.6,188.8L876.0,189.1L876.5,188.4L876.9,188.7L877.4,187.8L877.8,187.2L878.3,186.8L878.7,185.3L879.2,185.3L879.6,185.2L880.1,184.8L880.5,183.1L881.0,181.7L881.4,180.4L881.9,180.9L882.3,179.8L882.8,178.8L883.2,178.1L883.7,177.8L884.2,176.9L884.6,176.2L885.1,176.6L885.5,176.7L886.0,175.5L886.5,174.3L886.9,175.2L887.4,175.1L887.8,174.6L888.3,173.8L888.8,175.6L889.2,176.0L889.6,176.1L890.1,176.4L890.6,175.9L891.0,175.8L891.5,174.9L892.0,175.4L892.4,174.7L892.9,173.6L893.4,173.7L893.8,173.5L894.3,173.4L894.7,173.0L895.2,172.8L895.7,172.5L896.1,173.1L896.6,171.9L897.0,172.5L897.5,171.7L898.0,172.1L898.4,170.4L898.9,170.2L899.3,169.8L899.8,169.9L900.3,168.7L900.7,167.9L901.2,167.0L901.6,167.2L902.1,167.2L902.6,165.8L903.0,165.3L903.5,164.9L903.9,166.1L904.4,165.6L904.8,165.4L905.2,164.5L905.7,164.6L906.2,163.9L906.6,162.5L907.1,159.7L907.5,158.5L908.0,157.3L908.5,157.5L908.9,159.6L909.4,160.3L909.8,161.0L910.3,162.6L910.8,161.6L911.2,160.2L911.7,159.7L912.1,158.1L912.6,156.3L913.1,154.1L913.5,153.4L914.0,152.1L914.5,152.7L914.9,152.7L915.4,152.2L915.9,152.1L916.3,152.4L916.8,152.6L917.2,153.5L917.7,153.1L918.1,151.8L918.6,151.9L919.0,153.0L919.5,152.8L920.0,154.5L920.4,154.8L920.9,155.2L921.3,153.1L921.8,151.9L922.3,150.7L922.7,151.0L923.2,150.7L923.7,150.3L924.1,149.0L924.6,148.9L925.0,149.3L925.5,148.1L926.0,149.2L926.4,149.6L926.9,149.9L927.4,150.7L927.8,151.5L928.2,153.1L928.7,152.9L929.2,151.4L929.6,149.6L930.1,148.4L930.6,148.6L931.0,146.7L931.5,146.6L932.0,146.0L932.4,146.6L932.8,146.5L933.3,146.2L933.8,145.5L934.2,142.8L934.7,141.4L935.2,140.4L935.7,141.1L936.1,142.3L936.5,143.6L937.0,144.3L937.5,145.3L937.9,145.6L938.4,145.8L938.8,146.8L939.3,148.4L939.8,150.0L940.2,148.5L940.7,147.4L941.1,147.0L941.6,145.7L942.0,146.1L942.5,144.0L943.0,146.6L943.5,148.6L943.9,149.9L944.4,152.4L944.9,151.4L945.3,151.5L945.8,151.0L946.2,149.6L946.7,149.0L947.1,148.3L947.6,145.8L948.1,146.6L948.5,147.1L949.0,147.8L949.4,147.8L949.9,146.9L950.3,146.1L950.8,146.8L951.3,146.3L951.7,147.4L952.2,147.8L952.6,148.6L953.1,148.2L953.6,148.8L954.1,150.9L954.5,152.0L955.0,152.5L955.5,153.7" fill="none" stroke="#fb82a8" stroke-width="3.3" stroke-linejoin="round"/>
</g>
<rect x="143" y="453" width="813" height="1" fill="#e6e6e6"/>
<text x="127.7" y="451" class="yl" textLength="100.5" lengthAdjust="spacing">12,000,000</text>
<text x="127.0" y="543" class="yl">0</text>
<g clip-path="url(#cp2)">
<path d="M143.0,545.0L143.6,545.0L144.2,545.0L144.8,545.0L145.4,545.0L146.0,545.0L146.6,545.0L147.2,545.0L147.8,545.0L148.4,545.0L149.0,545.0L149.6,545.0L150.2,545.0L150.8,545.0L151.4,545.0L152.0,545.0L152.6,545.0L153.2,545.0L153.8,545.0L154.4,545.0L155.0,545.0L155.6,545.0L156.2,545.0L156.8,545.0L157.4,545.0L158.0,545.0L158.6,545.0L159.2,545.0L159.8,545.0L160.4,545.0L161.0,545.0L161.6,545.0L162.2,545.0L162.8,545.0L163.4,545.0L164.0,545.0L164.6,545.0L165.2,545.0L165.8,545.0L166.4,545.0L167.0,545.0L167.6,545.0L168.2,545.0L168.8,545.0L169.4,545.0L170.1,545.0L170.7,545.0L171.3,545.0L171.9,545.0L172.5,545.0L173.1,545.0L173.7,545.0L174.3,545.0L174.9,545.0L175.5,545.0L176.1,545.0L176.7,545.0L177.3,545.0L177.9,545.0L178.5,545.0L179.1,545.0L179.7,545.0L180.3,545.0L180.9,545.0L181.5,545.0L182.1,545.0L182.7,545.0L183.3,545.0L183.9,545.0L184.5,545.0L185.1,545.0L185.7,545.0L186.3,545.0L186.9,545.0L187.5,545.0L188.1,545.0L188.7,545.0L189.3,545.0L189.9,545.0L190.5,545.0L191.1,545.0L191.7,545.0L192.3,545.0L192.9,545.0L193.5,545.0L194.1,545.0L194.7,545.0L195.3,545.0L195.9,545.0L196.5,545.0L197.1,545.0L197.7,545.0L198.3,545.0L198.9,545.0L199.5,545.0L200.1,545.0L200.7,545.0L201.3,545.0L201.9,545.0L202.5,545.0L203.1,545.0L203.7,545.0L204.3,545.0L204.9,545.0L205.5,545.0L206.1,545.0L206.7,545.0L207.3,545.0L207.9,545.0L208.5,545.0L209.1,545.0L209.7,545.0L210.3,545.0L210.9,545.0L211.5,545.0L212.1,545.0L212.7,545.0L213.3,545.0L213.9,545.0L214.5,545.0L215.1,545.0L215.7,545.0L216.3,545.0L216.9,545.0L217.5,545.0L218.1,545.0L218.7,545.0L219.3,545.0L219.9,545.0L220.5,545.0L221.1,545.0L221.7,545.0L222.3,545.0L222.9,545.0L223.6,545.0L224.2,545.0L224.8,545.0L225.4,545.0L226.0,545.0L226.6,545.0L227.2,545.0L227.8,545.0L228.4,545.0L229.0,545.0L229.6,545.0L230.2,545.0L230.8,545.0L231.4,545.0L232.0,545.0L232.6,545.0L233.2,545.0L233.8,545.0L234.4,545.0L235.0,545.0L235.6,545.0L236.2,545.0L236.8,545.0L237.4,545.0L238.0,545.0L238.6,545.0L239.2,545.0L239.8,545.0L240.4,545.0L241.0,545.0L241.6,545.0L242.2,545.0L242.8,545.0L243.4,545.0L244.0,545.0L244.6,545.0L245.2,545.0L245.8,545.0L246.4,545.0L247.0,545.0L247.6,545.0L248.2,545.0L248.8,545.0L249.4,545.0L250.0,545.0L250.6,545.0L251.2,545.0L251.8,545.0L252.4,545.0L253.0,545.0L253.6,545.0L254.2,545.0L254.8,545.0L255.4,545.0L256.0,545.0L256.6,545.0L257.2,545.0L257.8,545.0L258.4,544.9L259.0,544.9L259.6,544.9L260.2,544.9L260.8,544.9L261.4,544.9L262.0,544.9L262.7,544.9L263.3,544.9L263.9,544.9L264.5,544.9L265.1,544.9L265.7,544.9L266.3,544.9L266.9,544.9L267.5,544.9L268.1,544.9L268.7,544.9L269.3,544.9L269.9,544.9L270.5,544.9L271.1,544.9L271.7,544.9L272.3,544.9L272.9,544.9L273.5,544.9L274.1,544.9L274.7,544.9L275.3,544.9L275.9,544.8L276.5,544.8L277.1,544.8L277.7,544.8L278.3,544.8L278.9,544.8L279.5,544.8L280.1,544.8L280.7,544.8L281.3,544.8L281.9,544.8L282.5,544.8L283.1,544.8L283.7,544.8L284.3,544.8L284.9,544.8L285.5,544.8L286.1,544.8L286.7,544.8L287.3,544.8L288.0,544.8L288.6,544.8L289.2,544.8L289.8,544.8L290.4,544.8L291.0,544.8L291.6,544.8L292.2,544.7L292.8,544.7L293.4,544.7L294.0,544.7L294.6,544.7L295.2,544.7L295.8,544.7L296.4,544.7L297.0,544.7L297.6,544.7L298.2,544.7L298.8,544.7L299.4,544.7L300.0,544.7L300.6,544.7L301.2,544.7L301.8,544.7L302.4,544.7L303.0,544.7L303.6,544.7L304.2,544.6L304.8,544.6L305.4,544.6L306.0,544.6L306.6,544.6L307.2,544.6L307.8,544.6L308.4,544.6L309.0,544.6L309.6,544.6L310.2,544.6L310.8,544.6L311.4,544.6L312.0,544.6L312.7,544.6L313.3,544.6L313.9,544.6L314.5,544.6L315.1,544.6L315.7,544.6L316.3,544.5L316.9,544.5L317.5,544.5L318.1,544.5L318.7,544.5L319.3,544.5L319.9,544.5L320.5,544.5L321.1,544.5L321.7,544.5L322.3,544.5L322.9,544.5L323.5,544.5L324.1,544.5L324.7,544.5L325.3,544.5L325.9,544.4L326.5,544.4L327.1,544.4L327.7,544.4L328.3,544.4L328.9,544.4L329.5,544.4L330.1,544.4L330.7,544.4L331.3,544.4L331.9,544.4L332.5,544.4L333.1,544.4L333.7,544.4L334.3,544.4L334.9,544.3L335.5,544.3L336.1,544.3L336.7,544.3L337.3,544.3L338.0,544.3L338.6,544.3L339.2,544.3L339.8,544.3L340.4,544.3L341.0,544.3L341.6,544.3L342.2,544.3L342.8,544.3L343.4,544.3L344.0,544.3L344.6,544.3L345.2,544.3L345.8,544.2L346.4,544.2L347.0,544.2L347.6,544.2L348.2,544.2L348.8,544.2L349.4,544.2L350.0,544.2L350.6,544.2L351.2,544.2L351.8,544.2L352.4,544.2L353.0,544.2L353.6,544.2L354.2,544.2L354.8,544.1L355.4,544.1L356.0,544.1L356.6,544.1L357.2,544.1L357.8,544.1L358.4,544.1L359.0,544.1L359.6,544.1L360.2,544.1L360.8,544.1L361.4,544.1L362.0,544.1L362.6,544.1L363.2,544.1L363.9,544.0L364.5,544.0L365.1,544.0L365.7,544.0L366.3,544.0L366.9,544.0L367.5,544.0L368.1,544.0L368.7,544.0L369.3,544.0L369.9,544.0L370.5,544.0L371.1,543.9L371.7,543.9L372.3,543.9L372.9,543.9L373.5,543.9L374.1,543.9L374.7,543.9L375.3,543.9L375.9,543.9L376.5,543.9L377.1,543.9L377.7,543.9L378.3,543.9L378.9,543.9L379.5,543.9L380.1,543.9L380.7,543.8L381.3,543.8L381.9,543.8L382.5,543.8L383.1,543.8L383.7,543.8L384.3,543.8L384.9,543.8L385.5,543.8L386.1,543.8L386.7,543.8L387.3,543.8L387.9,543.8L388.5,543.8L389.1,543.8L389.8,543.7L390.4,543.8L391.0,543.7L391.6,543.8L392.2,543.8L392.8,543.7L393.4,543.7L394.0,543.7L394.6,543.7L395.2,543.7L395.8,543.7L396.4,543.7L397.0,543.7L397.6,543.6L398.2,543.6L398.8,543.7L399.4,543.6L400.0,543.6L400.6,543.6L401.2,543.6L401.8,543.6L402.4,543.6L403.0,543.6L403.6,543.6L404.2,543.6L404.8,543.5L405.4,543.5L406.0,543.5L406.6,543.4L407.2,543.4L407.8,543.4L408.4,543.4L409.0,543.4L409.6,543.3L410.2,543.3L410.8,543.3L411.5,543.3L412.1,543.3L412.7,543.3L413.3,543.2L413.9,543.2L414.5,543.2L415.1,543.2L415.7,543.1L416.3,543.1L416.9,543.1L417.5,543.1L418.1,543.0L418.7,543.0L419.3,543.0L419.9,543.0L420.5,543.0L421.1,542.9L421.7,542.9L422.3,542.9L422.9,542.9L423.5,542.8L424.1,542.8L424.7,542.8L425.3,542.7L425.9,542.7L426.5,542.7L427.2,542.7L427.8,542.7L428.4,542.7L429.0,542.6L429.6,542.6L430.2,542.6L430.8,542.6L431.4,542.6L432.0,542.5L432.6,542.5L433.2,542.5L433.8,542.5L434.4,542.5L435.0,542.4L435.6,542.4L436.2,542.4L436.8,542.4L437.4,542.3L438.0,542.3L438.6,542.2L439.2,542.2L439.8,542.1L440.4,542.1L441.0,542.1L441.6,542.0L442.1,542.0L442.7,542.0L443.3,542.0L443.9,541.9L444.5,541.9L445.1,541.9L445.7,541.8L446.3,541.8L446.9,541.8L447.5,541.7L448.1,541.7L448.7,541.7L449.3,541.7L449.9,541.7L450.5,541.6L451.1,541.6L451.7,541.5L452.3,541.5L452.9,541.5L453.5,541.4L454.1,541.4L454.7,541.3L455.3,541.2L455.9,541.2L456.4,541.2L457.0,541.1L457.6,541.2L458.2,541.2L458.8,541.1L459.4,541.2L460.0,541.1L460.6,541.1L461.2,541.1L461.8,541.0L462.4,540.9L463.0,540.9L463.6,540.9L464.2,540.8L464.8,540.9L465.4,540.8L466.0,540.8L466.6,540.7L467.2,540.7L467.8,540.7L468.4,540.6L469.0,540.7L469.6,540.7L470.2,540.6L470.8,540.6L471.4,540.6L472.0,540.5L472.6,540.5L473.2,540.5L473.8,540.5L474.4,540.5L475.0,540.4L475.6,540.3L476.2,540.3L476.8,540.3L477.4,540.2L478.0,540.3L478.6,540.3L479.2,540.3L479.8,540.3L480.4,540.2L481.0,540.3L481.6,540.3L482.2,540.2L482.8,540.2L483.4,540.2L484.0,540.1L484.6,540.2L485.2,540.1L485.8,540.0L486.4,540.1L487.0,540.1L487.6,540.0L488.2,540.0L488.8,540.0L489.4,539.9L490.0,539.7L490.6,539.7L491.2,539.7L491.8,539.5L492.4,539.4L492.9,539.5L493.5,539.4L494.1,539.4L494.7,539.4L495.3,539.3L495.9,539.2L496.5,539.2L497.1,539.2L497.7,539.2L498.3,539.1L498.9,539.2L499.5,539.1L500.1,539.1L500.7,538.9L501.3,538.7L501.9,538.8L502.5,538.8L503.1,538.8L503.6,538.6L504.2,538.5L504.8,538.6L505.4,538.5L506.0,538.5L506.6,538.4L507.2,538.4L507.8,538.3L508.4,538.2L509.0,538.3L509.6,538.3L510.2,538.4L510.8,538.2L511.4,538.1L512.0,538.1L512.6,538.1L513.2,538.2L513.8,538.1L514.4,538.2L515.0,538.1L515.6,538.0L516.2,538.2L516.8,538.2L517.4,538.2L518.0,538.2L518.6,538.2L519.2,538.1L519.8,538.1L520.4,538.2L521.0,538.3L521.6,538.1L522.2,538.1L522.8,538.2L523.4,538.2L524.0,538.3L524.6,538.2L525.2,538.2L525.8,538.1L526.4,538.2L527.0,538.2L527.6,538.1L528.2,538.1L528.8,537.9L529.4,537.8L530.1,537.8L530.7,537.7L531.3,537.5L531.9,537.3L532.5,537.1L533.1,537.2L533.7,536.9L534.3,536.8L534.9,536.8L535.6,536.7L536.2,536.7L536.8,536.5L537.4,536.5L538.0,536.2L538.6,536.1L539.2,536.2L539.8,536.1L540.4,536.1L541.0,536.2L541.6,536.2L542.2,536.1L542.8,536.0L543.4,536.0L544.0,536.1L544.6,536.0L545.2,535.9L545.8,536.0L546.4,536.0L547.0,536.1L547.6,536.2L548.2,536.2L548.8,536.0L549.4,536.1L550.0,535.9L550.6,535.8L551.2,535.8L551.8,536.0L552.4,536.0L553.0,535.8L553.6,535.7L554.2,535.7L554.8,535.6L555.4,535.6L556.0,535.5L556.6,535.4L557.2,535.5L557.8,535.6L558.4,535.5L559.0,535.5L559.6,535.5L560.2,535.3L560.8,535.3L561.4,535.4L562.0,535.2L562.6,535.0L563.2,535.1L563.8,535.1L564.4,535.1L565.0,535.2L565.5,535.1L566.1,535.1L566.7,534.8L567.3,534.8L567.9,534.9L568.5,534.7L569.1,534.5L569.7,534.7L570.3,534.8L570.9,534.6L571.5,534.6L572.1,534.4L572.7,534.6L573.3,534.6L573.9,534.5L574.4,534.4L575.0,534.5L575.6,534.5L576.2,534.5L576.8,534.4L577.4,534.3L578.0,534.5L578.6,534.5L579.2,534.4L579.8,534.4L580.3,534.4L580.9,534.4L581.5,534.5L582.1,534.3L582.7,534.4L583.3,534.3L583.9,534.4L584.5,534.4L585.1,534.4L585.7,534.4L586.2,534.4L586.8,534.3L587.4,534.2L588.0,534.2L588.6,534.2L589.2,534.0L589.8,533.9L590.4,533.6L591.0,533.7L591.6,533.9L592.2,533.6L592.8,533.4L593.4,533.2L594.0,533.2L594.5,533.1L595.1,533.3L595.7,533.0L596.3,532.9L596.9,532.7L597.5,532.9L598.1,532.9L598.7,532.7L599.3,532.5L599.9,532.6L600.5,532.7L601.1,532.9L601.7,532.6L602.3,532.5L602.9,532.5L603.5,532.5L604.1,532.5L604.7,532.7L605.3,532.8L605.9,532.7L606.5,532.6L607.1,532.6L607.7,532.6L608.3,532.8L608.9,532.7L609.5,532.8L610.1,533.0L610.7,532.9L611.3,532.8L611.9,533.0L612.5,533.1L613.1,532.9L613.7,532.9L614.3,533.1L614.9,532.9L615.5,532.7L616.1,532.4L616.7,532.7L617.3,532.7L617.9,532.5L618.5,532.4L619.0,532.3L619.6,532.2L620.2,532.4L620.8,532.3L621.4,532.0L622.0,531.7L622.6,531.7L623.2,531.7L623.8,531.8L624.4,531.8L625.0,531.7L625.6,531.4L626.2,531.2L626.8,531.2L627.3,531.1L627.9,531.3L628.5,531.2L629.1,531.2L629.7,531.3L630.3,531.0L630.9,530.9L631.5,530.6L632.1,530.8L632.7,530.5L633.3,530.7L633.9,530.9L634.5,530.9L635.1,530.5L635.7,530.4L636.2,530.5L636.8,530.3L637.4,530.3L638.0,530.3L638.6,530.6L639.2,530.5L639.8,530.5L640.4,530.3L641.0,530.4L641.6,530.2L642.2,530.4L642.8,530.0L643.4,530.2L644.0,529.9L644.5,529.9L645.1,529.9L645.7,529.7L646.3,529.9L646.9,529.8L647.5,529.6L648.1,529.4L648.7,529.4L649.3,529.4L649.9,529.5L650.5,529.3L651.1,529.4L651.8,529.0L652.4,528.9L653.0,528.9L653.6,529.1L654.2,529.1L654.8,528.9L655.4,528.4L656.0,528.3L656.6,528.4L657.2,528.2L657.9,528.2L658.5,528.1L659.1,527.7L659.7,528.0L660.3,528.1L660.9,527.6L661.5,527.6L662.1,527.4L662.7,527.3L663.4,527.3L664.0,527.0L664.6,526.9L665.2,526.8L665.8,526.9L666.4,526.7L667.0,526.5L667.6,526.7L668.2,526.5L668.8,526.8L669.4,526.7L670.0,526.7L670.6,526.4L671.2,526.6L671.8,526.1L672.4,525.9L673.0,525.7L673.6,526.0L674.2,526.1L674.8,525.8L675.4,525.8L676.0,526.0L676.5,525.9L677.1,525.5L677.7,525.4L678.3,525.2L678.9,525.1L679.5,525.2L680.1,525.0L680.7,525.4L681.3,525.3L681.9,525.3L682.5,525.3L683.1,525.4L683.7,525.4L684.3,525.1L684.9,524.9L685.5,524.8L686.1,524.4L686.7,524.5L687.3,524.7L687.9,525.1L688.5,525.1L689.1,525.1L689.7,525.0L690.3,524.5L690.9,524.5L691.5,524.5L692.1,524.8L692.7,524.5L693.3,524.6L693.9,524.7L694.5,525.0L695.1,525.2L695.7,525.1L696.3,524.7L696.9,525.0L697.5,525.3L698.1,525.1L698.7,524.9L699.3,524.9L699.9,524.7L700.5,525.0L701.1,525.3L701.7,525.2L702.3,525.3L702.9,525.2L703.5,524.6L704.0,524.8L704.6,524.6L705.2,524.1L705.8,523.6L706.4,523.5L707.0,523.6L707.5,523.6L708.1,523.3L708.7,523.5L709.3,523.2L709.9,523.1L710.5,522.7L711.2,523.2L711.8,522.8L712.4,523.2L713.0,523.0L713.6,522.9L714.2,522.9L714.8,522.6L715.5,522.9L716.1,523.2L716.7,523.1L717.3,522.9L717.9,522.3L718.5,522.6L719.1,522.3L719.8,522.6L720.4,522.2L721.0,522.3L721.6,522.5L722.2,521.8L722.8,521.7L723.4,521.0L724.0,520.6L724.6,520.3L725.2,520.8L725.8,520.8L726.4,520.5L727.0,519.9L727.5,519.8L728.1,519.6L728.7,519.1L729.3,518.9L729.9,518.9L730.5,518.0L731.1,517.6L731.7,517.5L732.3,517.0L732.9,517.0L733.5,517.1L734.1,516.6L734.7,516.7L735.3,516.4L735.9,516.5L736.5,516.2L737.1,516.3L737.6,515.6L738.2,515.9L738.8,515.4L739.4,515.9L740.0,515.7L740.6,515.4L741.2,515.1L741.8,515.1L742.4,515.1L743.0,515.1L743.6,515.0L744.2,514.6L744.8,514.9L745.5,514.8L746.1,514.7L746.7,514.0L747.3,513.7L747.9,513.6L748.5,513.8L749.1,513.4L749.8,513.1L750.4,512.8L751.0,513.1L751.6,512.5L752.2,511.8L752.9,512.1L753.5,512.4L754.1,512.3L754.7,512.0L755.4,511.9L756.0,511.2L756.6,511.2L757.2,510.4L757.9,510.0L758.5,510.1L759.1,510.1L759.7,509.9L760.3,509.4L760.8,509.8L761.4,509.8L762.0,509.3L762.6,509.1L763.2,509.1L763.7,508.8L764.3,508.4L764.9,509.2L765.5,509.6L766.0,509.4L766.6,509.5L767.2,508.9L767.8,508.9L768.4,508.0L769.0,508.2L769.6,507.9L770.2,508.1L770.8,507.0L771.4,507.2L772.0,506.3L772.6,506.3L773.2,506.8L773.8,505.6L774.4,505.2L775.0,504.9L775.6,504.7L776.2,504.1L776.8,504.9L777.4,505.5L778.0,505.3L778.6,505.2L779.2,505.6L779.8,505.1L780.4,504.9L781.0,506.2L781.6,506.1L782.2,506.4L782.8,507.8L783.5,508.9L784.1,509.2L784.8,509.4L785.4,510.0L786.0,510.0L786.7,509.7L787.3,508.2L788.0,508.0L788.6,506.9L789.2,507.0L789.8,506.7L790.4,507.6L791.0,508.3L791.6,507.6L792.2,507.9L792.8,507.6L793.4,508.4L794.0,507.8L794.6,507.1L795.2,507.4L795.9,506.8L796.5,507.2L797.1,507.1L797.8,506.7L798.4,505.5L799.0,505.5L799.6,505.7L800.2,504.9L800.9,503.8L801.5,503.2L802.1,503.1L802.7,503.5L803.3,502.8L804.0,502.4L804.6,502.1L805.2,502.6L805.8,502.9L806.4,502.3L807.0,502.4L807.6,502.6L808.3,502.2L808.9,501.3L809.5,500.9L810.1,501.6L810.7,501.3L811.3,500.4L811.9,500.4L812.6,499.3L813.2,500.1L813.8,499.5L814.4,499.1L815.0,499.1L815.6,498.2L816.3,498.7L816.9,498.4L817.5,498.1L818.1,498.9L818.8,498.1L819.4,498.0L820.0,498.7L820.6,497.9L821.2,497.4L821.9,497.5L822.5,496.7L823.1,497.4L823.7,497.8L824.4,496.1L825.0,495.9L825.6,496.1L826.2,495.5L826.8,496.0L827.5,495.3L828.1,494.2L828.7,494.2L829.3,494.2L829.9,493.5L830.5,493.5L831.1,493.6L831.8,492.9L832.4,492.4L833.0,492.6L833.6,492.5L834.2,492.1L834.8,492.8L835.4,491.6L836.0,492.1L836.5,491.2L837.1,491.6L837.7,491.0L838.3,491.1L838.9,491.8L839.5,492.1L840.1,492.8L840.8,492.3L841.4,492.8L842.0,492.7L842.6,493.6L843.2,494.1L843.9,493.8L844.5,494.9L845.1,495.9L845.8,496.3L846.4,497.3L847.0,496.8L847.6,495.8L848.2,494.8L848.9,494.9L849.5,494.6L850.1,494.2L850.7,493.4L851.3,495.4L851.9,495.6L852.5,497.8L853.1,498.9L853.7,499.9L854.3,501.4L854.9,501.9L855.5,500.7L856.1,500.0L856.7,498.9L857.3,499.4L857.9,500.2L858.5,500.6L859.1,500.5L859.7,499.6L860.2,497.8L860.8,497.5L861.4,495.7L862.0,494.3L862.6,492.8L863.1,492.4L863.7,492.0L864.3,492.1L864.9,490.7L865.5,490.7L866.1,490.5L866.7,490.0L867.3,491.3L867.9,490.0L868.5,490.1L869.1,490.7L869.7,491.4L870.3,490.0L870.9,489.9L871.5,490.3L872.1,489.1L872.7,488.7L873.3,489.7L874.0,488.5L874.6,488.4L875.2,488.0L875.8,487.9L876.4,487.0L877.0,486.4L877.6,488.0L878.3,488.2L878.9,488.1L879.5,486.8L880.1,486.2L880.7,486.5L881.4,485.9L882.0,485.9L882.6,486.9L883.2,486.1L883.9,485.5L884.5,486.6L885.1,486.2L885.7,484.7L886.3,484.7L886.9,485.1L887.5,484.0L888.1,484.0L888.7,484.7L889.3,485.3L889.9,484.9L890.5,485.4L891.1,484.5L891.7,483.9L892.3,484.5L892.9,483.7L893.5,484.2L894.1,483.0L894.7,482.7L895.3,482.1L895.9,482.5L896.5,481.8L897.1,481.4L897.7,481.2L898.3,481.5L898.9,481.3L899.5,481.3L900.1,482.5L900.7,482.3L901.2,482.5L901.8,481.1L902.4,480.7L903.0,479.7L903.6,480.5L904.2,480.0L904.8,479.6L905.4,478.7L906.0,478.5L906.6,478.5L907.2,478.5L907.8,479.4L908.3,479.3L908.9,478.0L909.5,477.4L910.1,476.4L910.7,477.4L911.3,476.5L911.8,476.7L912.4,476.6L913.0,476.7L913.6,474.8L914.2,474.4L914.8,474.2L915.5,473.4L916.1,474.6L916.7,473.9L917.3,474.5L917.9,474.1L918.5,472.8L919.1,472.7L919.8,472.3L920.4,471.5L921.0,471.3L921.6,472.1L922.2,471.2L922.8,471.2L923.4,471.5L924.0,471.8L924.6,471.0L925.2,471.7L925.8,471.1L926.4,471.7L927.0,471.8L927.5,470.6L928.1,470.1L928.7,469.9L929.3,470.7L929.9,470.4L930.5,470.1L931.1,470.9L931.7,469.9L932.3,469.4L932.9,468.8L933.5,468.0L934.1,466.9L934.8,466.0L935.4,466.7L936.0,466.6L936.6,466.8L937.2,467.7L937.8,466.7L938.4,467.2L939.0,468.0L939.6,466.9L940.1,467.5L940.7,467.8L941.3,468.7L941.9,469.0L942.5,467.9L943.1,468.3L943.7,467.1L944.3,467.1L944.9,467.0L945.5,466.2L946.1,466.4L946.7,466.4L947.4,466.6L948.0,466.2L948.6,465.7L949.2,465.9L949.8,466.1L950.4,465.5L951.0,466.2L951.6,465.6L952.2,465.1L952.9,465.4L953.5,465.9L954.2,465.5L954.9,466.3L955.5,467.1L955.5,545L143,545Z" fill="url(#gg)"/>
<path d="M143.0,545.0L143.6,545.0L144.2,545.0L144.8,545.0L145.4,545.0L146.0,545.0L146.6,545.0L147.2,545.0L147.8,545.0L148.4,545.0L149.0,545.0L149.6,545.0L150.2,545.0L150.8,545.0L151.4,545.0L152.0,545.0L152.6,545.0L153.2,545.0L153.8,545.0L154.4,545.0L155.0,545.0L155.6,545.0L156.2,545.0L156.8,545.0L157.4,545.0L158.0,545.0L158.6,545.0L159.2,545.0L159.8,545.0L160.4,545.0L161.0,545.0L161.6,545.0L162.2,545.0L162.8,545.0L163.4,545.0L164.0,545.0L164.6,545.0L165.2,545.0L165.8,545.0L166.4,545.0L167.0,545.0L167.6,545.0L168.2,545.0L168.8,545.0L169.4,545.0L170.1,545.0L170.7,545.0L171.3,545.0L171.9,545.0L172.5,545.0L173.1,545.0L173.7,545.0L174.3,545.0L174.9,545.0L175.5,545.0L176.1,545.0L176.7,545.0L177.3,545.0L177.9,545.0L178.5,545.0L179.1,545.0L179.7,545.0L180.3,545.0L180.9,545.0L181.5,545.0L182.1,545.0L182.7,545.0L183.3,545.0L183.9,545.0L184.5,545.0L185.1,545.0L185.7,545.0L186.3,545.0L186.9,545.0L187.5,545.0L188.1,545.0L188.7,545.0L189.3,545.0L189.9,545.0L190.5,545.0L191.1,545.0L191.7,545.0L192.3,545.0L192.9,545.0L193.5,545.0L194.1,545.0L194.7,545.0L195.3,545.0L195.9,545.0L196.5,545.0L197.1,545.0L197.7,545.0L198.3,545.0L198.9,545.0L199.5,545.0L200.1,545.0L200.7,545.0L201.3,545.0L201.9,545.0L202.5,545.0L203.1,545.0L203.7,545.0L204.3,545.0L204.9,545.0L205.5,545.0L206.1,545.0L206.7,545.0L207.3,545.0L207.9,545.0L208.5,545.0L209.1,545.0L209.7,545.0L210.3,545.0L210.9,545.0L211.5,545.0L212.1,545.0L212.7,545.0L213.3,545.0L213.9,545.0L214.5,545.0L215.1,545.0L215.7,545.0L216.3,545.0L216.9,545.0L217.5,545.0L218.1,545.0L218.7,545.0L219.3,545.0L219.9,545.0L220.5,545.0L221.1,545.0L221.7,545.0L222.3,545.0L222.9,545.0L223.6,545.0L224.2,545.0L224.8,545.0L225.4,545.0L226.0,545.0L226.6,545.0L227.2,545.0L227.8,545.0L228.4,545.0L229.0,545.0L229.6,545.0L230.2,545.0L230.8,545.0L231.4,545.0L232.0,545.0L232.6,545.0L233.2,545.0L233.8,545.0L234.4,545.0L235.0,545.0L235.6,545.0L236.2,545.0L236.8,545.0L237.4,545.0L238.0,545.0L238.6,545.0L239.2,545.0L239.8,545.0L240.4,545.0L241.0,545.0L241.6,545.0L242.2,545.0L242.8,545.0L243.4,545.0L244.0,545.0L244.6,545.0L245.2,545.0L245.8,545.0L246.4,545.0L247.0,545.0L247.6,545.0L248.2,545.0L248.8,545.0L249.4,545.0L250.0,545.0L250.6,545.0L251.2,545.0L251.8,545.0L252.4,545.0L253.0,545.0L253.6,545.0L254.2,545.0L254.8,545.0L255.4,545.0L256.0,545.0L256.6,545.0L257.2,545.0L257.8,545.0L258.4,544.9L259.0,544.9L259.6,544.9L260.2,544.9L260.8,544.9L261.4,544.9L262.0,544.9L262.7,544.9L263.3,544.9L263.9,544.9L264.5,544.9L265.1,544.9L265.7,544.9L266.3,544.9L266.9,544.9L267.5,544.9L268.1,544.9L268.7,544.9L269.3,544.9L269.9,544.9L270.5,544.9L271.1,544.9L271.7,544.9L272.3,544.9L272.9,544.9L273.5,544.9L274.1,544.9L274.7,544.9L275.3,544.9L275.9,544.8L276.5,544.8L277.1,544.8L277.7,544.8L278.3,544.8L278.9,544.8L279.5,544.8L280.1,544.8L280.7,544.8L281.3,544.8L281.9,544.8L282.5,544.8L283.1,544.8L283.7,544.8L284.3,544.8L284.9,544.8L285.5,544.8L286.1,544.8L286.7,544.8L287.3,544.8L288.0,544.8L288.6,544.8L289.2,544.8L289.8,544.8L290.4,544.8L291.0,544.8L291.6,544.8L292.2,544.7L292.8,544.7L293.4,544.7L294.0,544.7L294.6,544.7L295.2,544.7L295.8,544.7L296.4,544.7L297.0,544.7L297.6,544.7L298.2,544.7L298.8,544.7L299.4,544.7L300.0,544.7L300.6,544.7L301.2,544.7L301.8,544.7L302.4,544.7L303.0,544.7L303.6,544.7L304.2,544.6L304.8,544.6L305.4,544.6L306.0,544.6L306.6,544.6L307.2,544.6L307.8,544.6L308.4,544.6L309.0,544.6L309.6,544.6L310.2,544.6L310.8,544.6L311.4,544.6L312.0,544.6L312.7,544.6L313.3,544.6L313.9,544.6L314.5,544.6L315.1,544.6L315.7,544.6L316.3,544.5L316.9,544.5L317.5,544.5L318.1,544.5L318.7,544.5L319.3,544.5L319.9,544.5L320.5,544.5L321.1,544.5L321.7,544.5L322.3,544.5L322.9,544.5L323.5,544.5L324.1,544.5L324.7,544.5L325.3,544.5L325.9,544.4L326.5,544.4L327.1,544.4L327.7,544.4L328.3,544.4L328.9,544.4L329.5,544.4L330.1,544.4L330.7,544.4L331.3,544.4L331.9,544.4L332.5,544.4L333.1,544.4L333.7,544.4L334.3,544.4L334.9,544.3L335.5,544.3L336.1,544.3L336.7,544.3L337.3,544.3L338.0,544.3L338.6,544.3L339.2,544.3L339.8,544.3L340.4,544.3L341.0,544.3L341.6,544.3L342.2,544.3L342.8,544.3L343.4,544.3L344.0,544.3L344.6,544.3L345.2,544.3L345.8,544.2L346.4,544.2L347.0,544.2L347.6,544.2L348.2,544.2L348.8,544.2L349.4,544.2L350.0,544.2L350.6,544.2L351.2,544.2L351.8,544.2L352.4,544.2L353.0,544.2L353.6,544.2L354.2,544.2L354.8,544.1L355.4,544.1L356.0,544.1L356.6,544.1L357.2,544.1L357.8,544.1L358.4,544.1L359.0,544.1L359.6,544.1L360.2,544.1L360.8,544.1L361.4,544.1L362.0,544.1L362.6,544.1L363.2,544.1L363.9,544.0L364.5,544.0L365.1,544.0L365.7,544.0L366.3,544.0L366.9,544.0L367.5,544.0L368.1,544.0L368.7,544.0L369.3,544.0L369.9,544.0L370.5,544.0L371.1,543.9L371.7,543.9L372.3,543.9L372.9,543.9L373.5,543.9L374.1,543.9L374.7,543.9L375.3,543.9L375.9,543.9L376.5,543.9L377.1,543.9L377.7,543.9L378.3,543.9L378.9,543.9L379.5,543.9L380.1,543.9L380.7,543.8L381.3,543.8L381.9,543.8L382.5,543.8L383.1,543.8L383.7,543.8L384.3,543.8L384.9,543.8L385.5,543.8L386.1,543.8L386.7,543.8L387.3,543.8L387.9,543.8L388.5,543.8L389.1,543.8L389.8,543.7L390.4,543.8L391.0,543.7L391.6,543.8L392.2,543.8L392.8,543.7L393.4,543.7L394.0,543.7L394.6,543.7L395.2,543.7L395.8,543.7L396.4,543.7L397.0,543.7L397.6,543.6L398.2,543.6L398.8,543.7L399.4,543.6L400.0,543.6L400.6,543.6L401.2,543.6L401.8,543.6L402.4,543.6L403.0,543.6L403.6,543.6L404.2,543.6L404.8,543.5L405.4,543.5L406.0,543.5L406.6,543.4L407.2,543.4L407.8,543.4L408.4,543.4L409.0,543.4L409.6,543.3L410.2,543.3L410.8,543.3L411.5,543.3L412.1,543.3L412.7,543.3L413.3,543.2L413.9,543.2L414.5,543.2L415.1,543.2L415.7,543.1L416.3,543.1L416.9,543.1L417.5,543.1L418.1,543.0L418.7,543.0L419.3,543.0L419.9,543.0L420.5,543.0L421.1,542.9L421.7,542.9L422.3,542.9L422.9,542.9L423.5,542.8L424.1,542.8L424.7,542.8L425.3,542.7L425.9,542.7L426.5,542.7L427.2,542.7L427.8,542.7L428.4,542.7L429.0,542.6L429.6,542.6L430.2,542.6L430.8,542.6L431.4,542.6L432.0,542.5L432.6,542.5L433.2,542.5L433.8,542.5L434.4,542.5L435.0,542.4L435.6,542.4L436.2,542.4L436.8,542.4L437.4,542.3L438.0,542.3L438.6,542.2L439.2,542.2L439.8,542.1L440.4,542.1L441.0,542.1L441.6,542.0L442.1,542.0L442.7,542.0L443.3,542.0L443.9,541.9L444.5,541.9L445.1,541.9L445.7,541.8L446.3,541.8L446.9,541.8L447.5,541.7L448.1,541.7L448.7,541.7L449.3,541.7L449.9,541.7L450.5,541.6L451.1,541.6L451.7,541.5L452.3,541.5L452.9,541.5L453.5,541.4L454.1,541.4L454.7,541.3L455.3,541.2L455.9,541.2L456.4,541.2L457.0,541.1L457.6,541.2L458.2,541.2L458.8,541.1L459.4,541.2L460.0,541.1L460.6,541.1L461.2,541.1L461.8,541.0L462.4,540.9L463.0,540.9L463.6,540.9L464.2,540.8L464.8,540.9L465.4,540.8L466.0,540.8L466.6,540.7L467.2,540.7L467.8,540.7L468.4,540.6L469.0,540.7L469.6,540.7L470.2,540.6L470.8,540.6L471.4,540.6L472.0,540.5L472.6,540.5L473.2,540.5L473.8,540.5L474.4,540.5L475.0,540.4L475.6,540.3L476.2,540.3L476.8,540.3L477.4,540.2L478.0,540.3L478.6,540.3L479.2,540.3L479.8,540.3L480.4,540.2L481.0,540.3L481.6,540.3L482.2,540.2L482.8,540.2L483.4,540.2L484.0,540.1L484.6,540.2L485.2,540.1L485.8,540.0L486.4,540.1L487.0,540.1L487.6,540.0L488.2,540.0L488.8,540.0L489.4,539.9L490.0,539.7L490.6,539.7L491.2,539.7L491.8,539.5L492.4,539.4L492.9,539.5L493.5,539.4L494.1,539.4L494.7,539.4L495.3,539.3L495.9,539.2L496.5,539.2L497.1,539.2L497.7,539.2L498.3,539.1L498.9,539.2L499.5,539.1L500.1,539.1L500.7,538.9L501.3,538.7L501.9,538.8L502.5,538.8L503.1,538.8L503.6,538.6L504.2,538.5L504.8,538.6L505.4,538.5L506.0,538.5L506.6,538.4L507.2,538.4L507.8,538.3L508.4,538.2L509.0,538.3L509.6,538.3L510.2,538.4L510.8,538.2L511.4,538.1L512.0,538.1L512.6,538.1L513.2,538.2L513.8,538.1L514.4,538.2L515.0,538.1L515.6,538.0L516.2,538.2L516.8,538.2L517.4,538.2L518.0,538.2L518.6,538.2L519.2,538.1L519.8,538.1L520.4,538.2L521.0,538.3L521.6,538.1L522.2,538.1L522.8,538.2L523.4,538.2L524.0,538.3L524.6,538.2L525.2,538.2L525.8,538.1L526.4,538.2L527.0,538.2L527.6,538.1L528.2,538.1L528.8,537.9L529.4,537.8L530.1,537.8L530.7,537.7L531.3,537.5L531.9,537.3L532.5,537.1L533.1,537.2L533.7,536.9L534.3,536.8L534.9,536.8L535.6,536.7L536.2,536.7L536.8,536.5L537.4,536.5L538.0,536.2L538.6,536.1L539.2,536.2L539.8,536.1L540.4,536.1L541.0,536.2L541.6,536.2L542.2,536.1L542.8,536.0L543.4,536.0L544.0,536.1L544.6,536.0L545.2,535.9L545.8,536.0L546.4,536.0L547.0,536.1L547.6,536.2L548.2,536.2L548.8,536.0L549.4,536.1L550.0,535.9L550.6,535.8L551.2,535.8L551.8,536.0L552.4,536.0L553.0,535.8L553.6,535.7L554.2,535.7L554.8,535.6L555.4,535.6L556.0,535.5L556.6,535.4L557.2,535.5L557.8,535.6L558.4,535.5L559.0,535.5L559.6,535.5L560.2,535.3L560.8,535.3L561.4,535.4L562.0,535.2L562.6,535.0L563.2,535.1L563.8,535.1L564.4,535.1L565.0,535.2L565.5,535.1L566.1,535.1L566.7,534.8L567.3,534.8L567.9,534.9L568.5,534.7L569.1,534.5L569.7,534.7L570.3,534.8L570.9,534.6L571.5,534.6L572.1,534.4L572.7,534.6L573.3,534.6L573.9,534.5L574.4,534.4L575.0,534.5L575.6,534.5L576.2,534.5L576.8,534.4L577.4,534.3L578.0,534.5L578.6,534.5L579.2,534.4L579.8,534.4L580.3,534.4L580.9,534.4L581.5,534.5L582.1,534.3L582.7,534.4L583.3,534.3L583.9,534.4L584.5,534.4L585.1,534.4L585.7,534.4L586.2,534.4L586.8,534.3L587.4,534.2L588.0,534.2L588.6,534.2L589.2,534.0L589.8,533.9L590.4,533.6L591.0,533.7L591.6,533.9L592.2,533.6L592.8,533.4L593.4,533.2L594.0,533.2L594.5,533.1L595.1,533.3L595.7,533.0L596.3,532.9L596.9,532.7L597.5,532.9L598.1,532.9L598.7,532.7L599.3,532.5L599.9,532.6L600.5,532.7L601.1,532.9L601.7,532.6L602.3,532.5L602.9,532.5L603.5,532.5L604.1,532.5L604.7,532.7L605.3,532.8L605.9,532.7L606.5,532.6L607.1,532.6L607.7,532.6L608.3,532.8L608.9,532.7L609.5,532.8L610.1,533.0L610.7,532.9L611.3,532.8L611.9,533.0L612.5,533.1L613.1,532.9L613.7,532.9L614.3,533.1L614.9,532.9L615.5,532.7L616.1,532.4L616.7,532.7L617.3,532.7L617.9,532.5L618.5,532.4L619.0,532.3L619.6,532.2L620.2,532.4L620.8,532.3L621.4,532.0L622.0,531.7L622.6,531.7L623.2,531.7L623.8,531.8L624.4,531.8L625.0,531.7L625.6,531.4L626.2,531.2L626.8,531.2L627.3,531.1L627.9,531.3L628.5,531.2L629.1,531.2L629.7,531.3L630.3,531.0L630.9,530.9L631.5,530.6L632.1,530.8L632.7,530.5L633.3,530.7L633.9,530.9L634.5,530.9L635.1,530.5L635.7,530.4L636.2,530.5L636.8,530.3L637.4,530.3L638.0,530.3L638.6,530.6L639.2,530.5L639.8,530.5L640.4,530.3L641.0,530.4L641.6,530.2L642.2,530.4L642.8,530.0L643.4,530.2L644.0,529.9L644.5,529.9L645.1,529.9L645.7,529.7L646.3,529.9L646.9,529.8L647.5,529.6L648.1,529.4L648.7,529.4L649.3,529.4L649.9,529.5L650.5,529.3L651.1,529.4L651.8,529.0L652.4,528.9L653.0,528.9L653.6,529.1L654.2,529.1L654.8,528.9L655.4,528.4L656.0,528.3L656.6,528.4L657.2,528.2L657.9,528.2L658.5,528.1L659.1,527.7L659.7,528.0L660.3,528.1L660.9,527.6L661.5,527.6L662.1,527.4L662.7,527.3L663.4,527.3L664.0,527.0L664.6,526.9L665.2,526.8L665.8,526.9L666.4,526.7L667.0,526.5L667.6,526.7L668.2,526.5L668.8,526.8L669.4,526.7L670.0,526.7L670.6,526.4L671.2,526.6L671.8,526.1L672.4,525.9L673.0,525.7L673.6,526.0L674.2,526.1L674.8,525.8L675.4,525.8L676.0,526.0L676.5,525.9L677.1,525.5L677.7,525.4L678.3,525.2L678.9,525.1L679.5,525.2L680.1,525.0L680.7,525.4L681.3,525.3L681.9,525.3L682.5,525.3L683.1,525.4L683.7,525.4L684.3,525.1L684.9,524.9L685.5,524.8L686.1,524.4L686.7,524.5L687.3,524.7L687.9,525.1L688.5,525.1L689.1,525.1L689.7,525.0L690.3,524.5L690.9,524.5L691.5,524.5L692.1,524.8L692.7,524.5L693.3,524.6L693.9,524.7L694.5,525.0L695.1,525.2L695.7,525.1L696.3,524.7L696.9,525.0L697.5,525.3L698.1,525.1L698.7,524.9L699.3,524.9L699.9,524.7L700.5,525.0L701.1,525.3L701.7,525.2L702.3,525.3L702.9,525.2L703.5,524.6L704.0,524.8L704.6,524.6L705.2,524.1L705.8,523.6L706.4,523.5L707.0,523.6L707.5,523.6L708.1,523.3L708.7,523.5L709.3,523.2L709.9,523.1L710.5,522.7L711.2,523.2L711.8,522.8L712.4,523.2L713.0,523.0L713.6,522.9L714.2,522.9L714.8,522.6L715.5,522.9L716.1,523.2L716.7,523.1L717.3,522.9L717.9,522.3L718.5,522.6L719.1,522.3L719.8,522.6L720.4,522.2L721.0,522.3L721.6,522.5L722.2,521.8L722.8,521.7L723.4,521.0L724.0,520.6L724.6,520.3L725.2,520.8L725.8,520.8L726.4,520.5L727.0,519.9L727.5,519.8L728.1,519.6L728.7,519.1L729.3,518.9L729.9,518.9L730.5,518.0L731.1,517.6L731.7,517.5L732.3,517.0L732.9,517.0L733.5,517.1L734.1,516.6L734.7,516.7L735.3,516.4L735.9,516.5L736.5,516.2L737.1,516.3L737.6,515.6L738.2,515.9L738.8,515.4L739.4,515.9L740.0,515.7L740.6,515.4L741.2,515.1L741.8,515.1L742.4,515.1L743.0,515.1L743.6,515.0L744.2,514.6L744.8,514.9L745.5,514.8L746.1,514.7L746.7,514.0L747.3,513.7L747.9,513.6L748.5,513.8L749.1,513.4L749.8,513.1L750.4,512.8L751.0,513.1L751.6,512.5L752.2,511.8L752.9,512.1L753.5,512.4L754.1,512.3L754.7,512.0L755.4,511.9L756.0,511.2L756.6,511.2L757.2,510.4L757.9,510.0L758.5,510.1L759.1,510.1L759.7,509.9L760.3,509.4L760.8,509.8L761.4,509.8L762.0,509.3L762.6,509.1L763.2,509.1L763.7,508.8L764.3,508.4L764.9,509.2L765.5,509.6L766.0,509.4L766.6,509.5L767.2,508.9L767.8,508.9L768.4,508.0L769.0,508.2L769.6,507.9L770.2,508.1L770.8,507.0L771.4,507.2L772.0,506.3L772.6,506.3L773.2,506.8L773.8,505.6L774.4,505.2L775.0,504.9L775.6,504.7L776.2,504.1L776.8,504.9L777.4,505.5L778.0,505.3L778.6,505.2L779.2,505.6L779.8,505.1L780.4,504.9L781.0,506.2L781.6,506.1L782.2,506.4L782.8,507.8L783.5,508.9L784.1,509.2L784.8,509.4L785.4,510.0L786.0,510.0L786.7,509.7L787.3,508.2L788.0,508.0L788.6,506.9L789.2,507.0L789.8,506.7L790.4,507.6L791.0,508.3L791.6,507.6L792.2,507.9L792.8,507.6L793.4,508.4L794.0,507.8L794.6,507.1L795.2,507.4L795.9,506.8L796.5,507.2L797.1,507.1L797.8,506.7L798.4,505.5L799.0,505.5L799.6,505.7L800.2,504.9L800.9,503.8L801.5,503.2L802.1,503.1L802.7,503.5L803.3,502.8L804.0,502.4L804.6,502.1L805.2,502.6L805.8,502.9L806.4,502.3L807.0,502.4L807.6,502.6L808.3,502.2L808.9,501.3L809.5,500.9L810.1,501.6L810.7,501.3L811.3,500.4L811.9,500.4L812.6,499.3L813.2,500.1L813.8,499.5L814.4,499.1L815.0,499.1L815.6,498.2L816.3,498.7L816.9,498.4L817.5,498.1L818.1,498.9L818.8,498.1L819.4,498.0L820.0,498.7L820.6,497.9L821.2,497.4L821.9,497.5L822.5,496.7L823.1,497.4L823.7,497.8L824.4,496.1L825.0,495.9L825.6,496.1L826.2,495.5L826.8,496.0L827.5,495.3L828.1,494.2L828.7,494.2L829.3,494.2L829.9,493.5L830.5,493.5L831.1,493.6L831.8,492.9L832.4,492.4L833.0,492.6L833.6,492.5L834.2,492.1L834.8,492.8L835.4,491.6L836.0,492.1L836.5,491.2L837.1,491.6L837.7,491.0L838.3,491.1L838.9,491.8L839.5,492.1L840.1,492.8L840.8,492.3L841.4,492.8L842.0,492.7L842.6,493.6L843.2,494.1L843.9,493.8L844.5,494.9L845.1,495.9L845.8,496.3L846.4,497.3L847.0,496.8L847.6,495.8L848.2,494.8L848.9,494.9L849.5,494.6L850.1,494.2L850.7,493.4L851.3,495.4L851.9,495.6L852.5,497.8L853.1,498.9L853.7,499.9L854.3,501.4L854.9,501.9L855.5,500.7L856.1,500.0L856.7,498.9L857.3,499.4L857.9,500.2L858.5,500.6L859.1,500.5L859.7,499.6L860.2,497.8L860.8,497.5L861.4,495.7L862.0,494.3L862.6,492.8L863.1,492.4L863.7,492.0L864.3,492.1L864.9,490.7L865.5,490.7L866.1,490.5L866.7,490.0L867.3,491.3L867.9,490.0L868.5,490.1L869.1,490.7L869.7,491.4L870.3,490.0L870.9,489.9L871.5,490.3L872.1,489.1L872.7,488.7L873.3,489.7L874.0,488.5L874.6,488.4L875.2,488.0L875.8,487.9L876.4,487.0L877.0,486.4L877.6,488.0L878.3,488.2L878.9,488.1L879.5,486.8L880.1,486.2L880.7,486.5L881.4,485.9L882.0,485.9L882.6,486.9L883.2,486.1L883.9,485.5L884.5,486.6L885.1,486.2L885.7,484.7L886.3,484.7L886.9,485.1L887.5,484.0L888.1,484.0L888.7,484.7L889.3,485.3L889.9,484.9L890.5,485.4L891.1,484.5L891.7,483.9L892.3,484.5L892.9,483.7L893.5,484.2L894.1,483.0L894.7,482.7L895.3,482.1L895.9,482.5L896.5,481.8L897.1,481.4L897.7,481.2L898.3,481.5L898.9,481.3L899.5,481.3L900.1,482.5L900.7,482.3L901.2,482.5L901.8,481.1L902.4,480.7L903.0,479.7L903.6,480.5L904.2,480.0L904.8,479.6L905.4,478.7L906.0,478.5L906.6,478.5L907.2,478.5L907.8,479.4L908.3,479.3L908.9,478.0L909.5,477.4L910.1,476.4L910.7,477.4L911.3,476.5L911.8,476.7L912.4,476.6L913.0,476.7L913.6,474.8L914.2,474.4L914.8,474.2L915.5,473.4L916.1,474.6L916.7,473.9L917.3,474.5L917.9,474.1L918.5,472.8L919.1,472.7L919.8,472.3L920.4,471.5L921.0,471.3L921.6,472.1L922.2,471.2L922.8,471.2L923.4,471.5L924.0,471.8L924.6,471.0L925.2,471.7L925.8,471.1L926.4,471.7L927.0,471.8L927.5,470.6L928.1,470.1L928.7,469.9L929.3,470.7L929.9,470.4L930.5,470.1L931.1,470.9L931.7,469.9L932.3,469.4L932.9,468.8L933.5,468.0L934.1,466.9L934.8,466.0L935.4,466.7L936.0,466.6L936.6,466.8L937.2,467.7L937.8,466.7L938.4,467.2L939.0,468.0L939.6,466.9L940.1,467.5L940.7,467.8L941.3,468.7L941.9,469.0L942.5,467.9L943.1,468.3L943.7,467.1L944.3,467.1L944.9,467.0L945.5,466.2L946.1,466.4L946.7,466.4L947.4,466.6L948.0,466.2L948.6,465.7L949.2,465.9L949.8,466.1L950.4,465.5L951.0,466.2L951.6,465.6L952.2,465.1L952.9,465.4L953.5,465.9L954.2,465.5L954.9,466.3L955.5,467.1" fill="none" stroke="#06936f" stroke-width="2.6" stroke-linejoin="round"/>
</g>
<rect x="143" y="546" width="813" height="1" fill="#ccd6eb"/>
<rect x="194.3" y="547" width="1" height="13.5" fill="#ccd6eb"/>
<text x="195.4" y="574.2" class="xl" textLength="68" lengthAdjust="spacing">2019/01</text>
<rect x="299.3" y="547" width="1" height="13.5" fill="#ccd6eb"/>
<text x="300.4" y="574.2" class="xl" textLength="68" lengthAdjust="spacing">2020/01</text>
<rect x="402.5" y="547" width="1" height="13.5" fill="#ccd6eb"/>
<text x="403.6" y="574.2" class="xl" textLength="68" lengthAdjust="spacing">2021/01</text>
<rect x="509.4" y="547" width="1" height="13.5" fill="#ccd6eb"/>
<text x="510.5" y="574.2" class="xl" textLength="68" lengthAdjust="spacing">2022/01</text>
<rect x="614.4" y="547" width="1" height="13.5" fill="#ccd6eb"/>
<text x="615.5" y="574.2" class="xl" textLength="68" lengthAdjust="spacing">2023/01</text>
<rect x="720.6" y="547" width="1" height="13.5" fill="#ccd6eb"/>
<text x="721.7" y="574.2" class="xl" textLength="68" lengthAdjust="spacing">2024/01</text>
<rect x="825.6" y="547" width="1" height="13.5" fill="#ccd6eb"/>
<text x="826.7" y="574.2" class="xl" textLength="68" lengthAdjust="spacing">2025/01</text>
<rect x="930.6" y="547" width="1" height="13.5" fill="#ccd6eb"/>
<text x="954.3" y="574.2" class="xl" style="text-anchor:end" textLength="69" lengthAdjust="spacing">2026/01</text>
<rect x="163.5" y="617" width="771" height="59" fill="#d1daed"/>
<rect x="311" y="617" width="1" height="59" fill="#bdc7de"/>
<rect x="511" y="617" width="1" height="59" fill="#bdc7de"/>
<rect x="712" y="617" width="1" height="59" fill="#bdc7de"/>
<rect x="911" y="617" width="1" height="59" fill="#bdc7de"/>
<path d="M163.6,668.8L164.5,668.7L165.5,668.4L166.4,668.2L167.4,668.2L168.4,668.2L169.4,668.3L170.3,668.3L171.3,668.3L172.3,668.2L173.2,668.2L174.2,668.1L175.2,668.0L176.2,668.0L177.1,668.0L178.1,667.9L179.1,667.8L180.1,667.7L181.0,667.7L182.0,667.7L182.9,667.7L183.9,667.7L184.9,667.7L185.8,667.5L186.8,667.4L187.8,667.3L188.7,667.2L189.7,667.2L190.7,667.5L191.7,667.9L192.6,668.2L193.6,668.4L194.6,668.6L195.6,668.8L196.5,668.7L197.5,668.5L198.5,668.2L199.4,668.1L200.4,668.2L201.3,668.4L202.3,668.6L203.1,668.5L204.0,668.4L204.8,668.2L205.7,668.3L206.9,668.5L208.1,668.8L209.1,669.0L210.1,669.3L211.0,669.9L212.0,670.4L212.8,670.6L213.6,670.4L214.4,670.3L215.3,670.1L216.1,669.9L217.0,669.7L217.8,669.6L218.8,669.4L219.8,669.3L220.8,669.2L221.7,669.1L222.7,669.0L223.7,668.9L224.6,668.8L225.6,668.7L226.6,668.6L227.5,668.5L228.5,668.4L229.4,668.3L230.4,668.2L231.3,668.2L232.3,668.2L233.3,668.1L234.2,668.1L235.2,668.0L236.2,667.9L237.2,667.9L238.1,667.8L239.1,667.7L240.1,667.6L241.1,667.5L242.0,667.4L243.0,667.3L244.0,667.3L245.0,667.3L245.9,667.5L246.9,667.7L247.8,667.9L248.8,668.0L249.8,668.0L250.7,668.0L251.7,668.2L252.7,668.4L253.7,668.6L254.6,668.5L255.6,668.2L256.5,668.1L257.5,667.9L258.5,667.9L259.4,667.8L260.4,667.7L261.4,667.6L262.4,667.5L263.4,667.4L264.3,667.3L265.3,667.3L266.3,667.3L267.2,667.3L268.2,667.2L269.1,667.2L270.1,667.4L270.9,667.8L271.6,668.2L272.8,668.4L274.0,668.3L275.0,668.3L275.9,668.4L276.9,668.4L277.9,668.4L278.8,668.2L279.8,668.0L280.7,667.8L281.7,667.6L282.7,667.5L283.7,667.4L284.7,667.5L285.6,667.6L286.6,667.8L287.5,667.9L288.5,668.0L289.5,667.9L290.5,667.6L291.4,667.3L292.4,667.2L293.4,667.0L294.3,666.9L295.3,666.8L296.3,666.7L297.2,666.6L298.2,666.6L299.2,666.5L300.1,666.4L301.1,666.4L302.1,666.4L303.0,666.4L304.0,666.5L305.0,666.4L306.0,666.3L306.9,666.2L307.9,666.0L308.9,665.9L309.9,665.8L310.8,665.8L311.8,665.7L312.8,665.6L313.7,665.5L314.7,665.2L315.6,665.2L316.6,665.2L317.6,665.4L318.5,665.6L319.5,665.7L320.5,665.6L321.5,665.3L322.4,665.1L323.4,664.9L324.4,664.6L325.4,664.9L326.3,665.5L327.3,666.2L328.2,666.7L329.2,667.3L330.2,668.3L331.2,669.5L332.4,670.4L333.5,670.7L334.4,670.6L335.2,670.2L336.0,669.8L337.0,669.3L338.0,668.8L338.9,668.4L339.9,668.2L340.8,668.0L341.8,667.9L342.8,667.8L343.7,667.7L344.7,667.6L345.7,667.5L346.7,667.4L347.6,667.3L348.6,667.2L349.6,667.0L350.5,666.8L351.5,666.6L352.3,666.4L353.1,666.2L353.9,666.2L354.9,666.4L355.8,666.7L356.6,666.8L357.5,666.7L358.3,666.7L359.5,666.8L360.7,666.8L361.5,666.7L362.3,666.5L363.1,666.3L364.1,666.1L365.1,666.0L366.1,666.0L367.0,666.0L368.0,666.1L368.9,666.1L369.9,665.9L370.9,665.6L371.9,665.4L372.8,665.3L373.8,665.3L374.8,665.2L375.6,665.0L376.4,664.8L377.3,664.5L378.1,664.5L378.9,664.8L379.6,665.2L380.6,665.5L381.5,665.6L382.5,665.8L383.4,665.8L384.4,665.7L385.4,665.5L386.4,665.3L387.3,665.0L388.3,664.8L389.3,664.6L390.2,664.7L391.2,664.8L392.1,665.1L393.1,665.5L394.1,665.6L395.1,665.4L396.0,665.0L397.0,664.6L398.0,664.4L398.9,664.3L399.9,664.2L400.9,664.2L401.8,664.1L402.8,664.0L403.8,663.9L404.8,663.9L405.7,663.9L406.7,663.9L407.7,664.0L408.6,664.0L409.6,663.9L410.6,663.8L411.6,663.7L412.5,663.6L413.5,663.5L414.5,663.4L415.5,663.3L416.4,663.3L417.4,663.4L418.3,663.4L419.3,663.3L420.2,663.0L421.2,662.6L422.2,662.4L423.2,662.2L424.2,662.1L425.1,662.1L426.1,662.2L427.0,662.3L428.0,662.3L429.0,662.1L430.0,661.7L430.9,661.4L431.8,661.2L432.6,661.3L433.5,661.3L434.3,661.2L435.3,660.9L436.2,660.5L437.2,660.3L438.0,660.1L438.9,660.1L439.8,660.0L440.6,660.1L441.6,660.1L442.6,660.2L443.5,660.2L444.7,660.0L445.9,659.9L446.9,660.0L447.9,660.1L448.8,660.1L449.6,659.9L450.5,659.7L451.3,659.6L452.3,659.5L453.2,659.4L454.2,659.3L455.1,659.3L456.0,659.3L456.8,659.3L457.7,659.4L458.5,659.3L459.4,659.1L460.2,658.8L461.1,658.5L461.9,658.3L462.9,658.2L463.9,658.2L464.9,658.4L465.8,658.6L466.8,658.8L467.8,658.7L468.7,658.5L469.7,658.3L470.7,658.1L471.6,657.9L472.6,657.9L473.5,657.8L474.5,657.9L475.5,657.9L476.5,657.8L477.5,657.6L478.4,657.5L479.6,657.4L480.8,657.6L481.8,657.9L482.8,658.2L483.8,658.4L484.9,658.3L486.1,658.2L486.9,658.3L487.6,658.2L488.8,657.8L490.0,657.2L491.0,656.8L492.0,656.5L493.0,656.2L493.9,656.0L494.8,655.9L495.8,655.8L496.8,655.6L497.7,655.5L498.7,655.3L499.7,655.2L500.5,655.2L501.3,655.2L502.2,655.4L502.9,655.9L503.6,656.2L504.6,656.1L505.6,655.8L506.5,655.6L507.5,655.5L508.4,655.7L509.4,655.7L510.3,655.6L511.3,654.9L512.3,654.6L513.3,654.6L514.3,654.9L515.2,655.4L516.4,656.2L517.6,656.8L518.4,656.9L519.3,656.5L520.1,656.3L521.0,656.0L522.0,655.9L522.9,656.0L523.7,656.4L524.6,657.0L525.4,657.4L526.2,657.4L527.0,657.1L527.9,657.1L529.0,657.3L530.2,657.5L531.2,657.3L532.1,656.6L532.9,655.8L533.8,654.7L534.6,654.1L535.4,653.8L536.3,653.8L537.1,653.8L538.0,653.9L538.9,654.0L539.9,653.9L540.7,653.6L541.4,653.4L542.4,653.7L543.3,654.3L544.3,654.9L545.3,655.4L546.2,655.9L547.2,656.3L548.1,656.6L549.1,656.7L550.1,656.4L551.1,655.9L552.0,655.3L553.2,654.8L554.4,654.8L555.2,655.3L556.0,656.4L556.9,656.9L557.9,656.9L558.8,656.4L559.8,656.1L560.8,655.8L561.7,655.7L562.7,655.6L563.6,655.4L564.6,655.2L565.6,655.0L566.5,654.8L567.5,654.7L568.5,654.6L569.5,654.5L570.4,654.3L571.3,654.0L572.1,653.6L573.0,653.1L573.8,652.9L574.8,652.9L575.7,653.1L576.7,653.3L577.5,653.5L578.3,653.8L579.2,653.7L580.3,653.2L581.5,652.9L582.3,653.0L583.2,653.7L584.0,654.3L585.0,654.8L586.0,655.2L586.9,655.4L587.9,655.4L588.8,655.2L589.8,654.9L590.8,654.5L591.7,654.0L592.7,653.4L593.7,653.1L594.5,653.1L595.4,653.4L596.2,653.7L597.1,653.9L597.9,653.9L598.8,653.9L599.6,653.8L600.5,653.8L601.4,653.8L602.4,653.8L603.3,653.9L604.3,654.0L605.3,654.2L606.3,654.6L607.2,655.3L608.2,656.0L609.2,656.4L610.1,656.4L611.1,656.3L612.1,656.2L613.1,656.0L614.1,656.0L615.2,656.2L616.4,656.3L617.2,656.2L618.1,655.8L618.9,655.4L619.8,655.1L620.8,654.7L621.7,654.3L622.6,654.1L623.4,653.9L624.2,653.9L625.4,654.0L626.6,654.3L627.6,654.3L628.5,654.2L629.5,654.4L630.2,654.9L630.9,655.4L631.9,655.7L632.9,655.6L633.9,655.5L634.8,655.2L635.8,654.9L636.6,654.6L637.5,654.4L638.3,654.2L639.2,654.0L640.2,653.8L641.1,653.7L642.1,653.7L643.1,653.8L644.0,653.8L645.0,653.6L646.0,653.3L647.0,653.2L647.9,653.2L648.9,652.9L649.9,652.5L650.9,652.1L651.7,651.9L652.6,651.7L653.4,651.5L654.3,651.2L655.5,650.7L656.6,650.3L657.6,650.0L658.6,649.9L659.6,649.6L660.8,649.3L661.9,649.1L662.9,649.2L663.9,649.5L664.9,649.6L666.1,649.4L667.3,648.9L668.2,648.6L669.2,648.4L670.2,648.3L671.2,648.3L672.2,648.4L673.1,648.6L674.3,648.8L675.5,648.8L676.3,648.6L677.2,648.3L678.0,648.0L678.9,647.8L679.9,647.7L680.8,647.6L681.6,647.6L682.5,647.6L683.3,647.8L684.1,648.0L684.9,648.3L685.8,648.6L686.9,648.9L688.1,648.9L689.1,648.8L690.1,648.4L691.1,648.3L692.0,648.2L693.0,648.6L694.0,649.2L694.9,649.4L695.7,649.1L696.4,648.2L697.6,647.4L698.7,646.9L699.6,646.6L700.4,646.6L701.3,646.5L702.2,646.6L703.1,646.7L704.1,647.0L705.1,647.3L706.0,647.3L707.0,647.0L708.0,646.5L709.0,646.3L710.0,646.2L710.9,646.4L711.9,646.5L712.9,646.4L713.8,646.0L714.8,645.4L715.7,644.9L716.7,644.5L717.7,644.2L718.7,644.2L719.6,644.3L720.6,644.2L721.4,643.8L722.2,643.2L723.0,642.7L723.9,642.5L724.7,642.4L725.6,642.3L726.4,642.1L727.6,641.7L728.8,641.5L729.6,641.6L730.4,641.9L731.3,641.7L732.5,641.1L733.6,640.3L734.5,639.9L735.3,639.9L736.2,639.9L737.1,640.1L737.8,640.4L738.5,640.6L739.2,640.4L740.0,640.3L741.2,640.6L742.4,640.8L743.2,640.6L744.0,640.0L744.8,639.6L745.8,639.2L746.7,639.0L747.7,638.7L748.7,638.4L749.6,638.0L750.6,637.9L751.6,637.8L752.6,638.0L753.6,637.9L754.5,637.7L755.5,637.2L756.4,636.7L757.4,636.2L758.4,635.7L759.4,635.3L760.3,635.0L761.3,634.7L762.3,634.3L763.2,633.9L764.2,633.4L765.1,633.4L765.9,633.6L766.8,634.3L767.6,635.1L768.3,636.1L769.0,636.8L769.7,637.1L770.4,637.9L771.2,639.5L772.0,640.5L773.1,640.0L774.3,638.7L775.1,638.2L776.0,638.6L776.8,638.7L777.7,638.5L778.7,638.0L779.6,638.3L780.6,639.2L781.6,640.0L782.8,640.0L784.0,639.2L784.8,638.5L785.6,638.0L786.5,637.8L787.4,637.7L788.4,637.3L789.4,636.4L790.4,635.3L791.3,634.7L792.3,634.6L793.3,634.4L794.2,634.5L795.2,634.8L796.1,634.7L797.1,633.9L798.1,632.8L799.1,632.1L800.0,632.1L801.0,632.4L801.9,632.9L802.9,633.2L803.9,633.2L804.9,633.1L805.8,632.8L806.8,632.6L807.7,632.7L808.7,632.9L809.7,632.6L810.7,631.7L811.7,631.1L812.6,631.1L813.6,631.7L814.5,631.9L815.4,631.8L816.2,631.3L817.1,630.8L817.9,630.6L819.1,630.8L820.3,631.3L821.1,631.7L822.0,632.1L822.8,632.2L823.6,632.1L824.4,631.8L825.3,631.9L826.2,632.5L827.1,633.5L828.3,634.4L829.5,635.4L830.3,636.6L831.0,637.3L832.0,637.3L832.9,636.7L833.7,636.0L834.5,635.7L835.4,635.9L836.3,636.7L837.1,637.5L837.8,639.7L838.8,641.1L839.8,641.6L840.7,641.0L841.7,641.6L842.6,642.2L843.4,641.7L844.1,640.4L845.1,639.2L846.0,638.1L846.7,636.9L847.4,636.0L848.4,635.4L849.4,635.6L850.4,636.3L851.3,636.7L852.3,636.6L853.3,635.9L854.5,635.3L855.7,634.9L856.5,634.7L857.4,634.7L858.3,634.8L859.1,634.7L860.1,634.4L861.1,633.9L862.0,633.5L863.0,633.0L864.0,632.5L865.0,632.0L865.9,631.6L866.8,631.2L867.7,631.0L868.6,630.8L869.4,630.6L870.3,630.6L871.2,630.9L872.0,631.1L872.9,631.1L873.8,630.7L874.7,630.4L875.5,630.2L876.4,630.1L877.3,630.0L878.1,630.0L879.0,629.8L879.9,629.6L880.8,629.3L881.6,629.1L882.5,628.8L883.4,628.6L884.2,628.4L885.1,628.2L885.9,628.0L886.8,627.5L887.9,626.8L889.0,626.3L890.1,626.5L891.2,626.7L892.0,626.5L892.9,625.8L893.8,625.1L894.7,624.6L895.6,624.5L896.4,624.7L897.3,624.7L898.2,624.5L899.0,624.4L899.9,624.6L900.7,624.8L901.6,624.6L902.5,624.1L903.4,623.7L904.3,623.4L905.1,623.3L906.0,623.2L906.9,623.4L907.8,623.7L908.6,623.9L909.5,623.8L910.4,623.2L911.3,622.7L912.1,622.4L913.0,622.1L913.9,621.6L914.8,621.3L915.6,621.3L916.5,621.6L917.3,622.1L918.2,622.6L919.1,622.9L920.0,622.9L920.8,622.5L921.7,622.6L922.6,623.2L923.5,623.7L924.5,623.7L925.5,623.0L926.5,622.6L927.5,622.4L928.6,622.5L929.6,622.6L930.7,622.8L931.7,623.2L932.9,623.8L934.0,624.2L934.0,676L163.6,676Z" fill="#2f7ff0" fill-opacity="0.05"/>
<path d="M163.6,668.8L164.5,668.7L165.5,668.4L166.4,668.2L167.4,668.2L168.4,668.2L169.4,668.3L170.3,668.3L171.3,668.3L172.3,668.2L173.2,668.2L174.2,668.1L175.2,668.0L176.2,668.0L177.1,668.0L178.1,667.9L179.1,667.8L180.1,667.7L181.0,667.7L182.0,667.7L182.9,667.7L183.9,667.7L184.9,667.7L185.8,667.5L186.8,667.4L187.8,667.3L188.7,667.2L189.7,667.2L190.7,667.5L191.7,667.9L192.6,668.2L193.6,668.4L194.6,668.6L195.6,668.8L196.5,668.7L197.5,668.5L198.5,668.2L199.4,668.1L200.4,668.2L201.3,668.4L202.3,668.6L203.1,668.5L204.0,668.4L204.8,668.2L205.7,668.3L206.9,668.5L208.1,668.8L209.1,669.0L210.1,669.3L211.0,669.9L212.0,670.4L212.8,670.6L213.6,670.4L214.4,670.3L215.3,670.1L216.1,669.9L217.0,669.7L217.8,669.6L218.8,669.4L219.8,669.3L220.8,669.2L221.7,669.1L222.7,669.0L223.7,668.9L224.6,668.8L225.6,668.7L226.6,668.6L227.5,668.5L228.5,668.4L229.4,668.3L230.4,668.2L231.3,668.2L232.3,668.2L233.3,668.1L234.2,668.1L235.2,668.0L236.2,667.9L237.2,667.9L238.1,667.8L239.1,667.7L240.1,667.6L241.1,667.5L242.0,667.4L243.0,667.3L244.0,667.3L245.0,667.3L245.9,667.5L246.9,667.7L247.8,667.9L248.8,668.0L249.8,668.0L250.7,668.0L251.7,668.2L252.7,668.4L253.7,668.6L254.6,668.5L255.6,668.2L256.5,668.1L257.5,667.9L258.5,667.9L259.4,667.8L260.4,667.7L261.4,667.6L262.4,667.5L263.4,667.4L264.3,667.3L265.3,667.3L266.3,667.3L267.2,667.3L268.2,667.2L269.1,667.2L270.1,667.4L270.9,667.8L271.6,668.2L272.8,668.4L274.0,668.3L275.0,668.3L275.9,668.4L276.9,668.4L277.9,668.4L278.8,668.2L279.8,668.0L280.7,667.8L281.7,667.6L282.7,667.5L283.7,667.4L284.7,667.5L285.6,667.6L286.6,667.8L287.5,667.9L288.5,668.0L289.5,667.9L290.5,667.6L291.4,667.3L292.4,667.2L293.4,667.0L294.3,666.9L295.3,666.8L296.3,666.7L297.2,666.6L298.2,666.6L299.2,666.5L300.1,666.4L301.1,666.4L302.1,666.4L303.0,666.4L304.0,666.5L305.0,666.4L306.0,666.3L306.9,666.2L307.9,666.0L308.9,665.9L309.9,665.8L310.8,665.8L311.8,665.7L312.8,665.6L313.7,665.5L314.7,665.2L315.6,665.2L316.6,665.2L317.6,665.4L318.5,665.6L319.5,665.7L320.5,665.6L321.5,665.3L322.4,665.1L323.4,664.9L324.4,664.6L325.4,664.9L326.3,665.5L327.3,666.2L328.2,666.7L329.2,667.3L330.2,668.3L331.2,669.5L332.4,670.4L333.5,670.7L334.4,670.6L335.2,670.2L336.0,669.8L337.0,669.3L338.0,668.8L338.9,668.4L339.9,668.2L340.8,668.0L341.8,667.9L342.8,667.8L343.7,667.7L344.7,667.6L345.7,667.5L346.7,667.4L347.6,667.3L348.6,667.2L349.6,667.0L350.5,666.8L351.5,666.6L352.3,666.4L353.1,666.2L353.9,666.2L354.9,666.4L355.8,666.7L356.6,666.8L357.5,666.7L358.3,666.7L359.5,666.8L360.7,666.8L361.5,666.7L362.3,666.5L363.1,666.3L364.1,666.1L365.1,666.0L366.1,666.0L367.0,666.0L368.0,666.1L368.9,666.1L369.9,665.9L370.9,665.6L371.9,665.4L372.8,665.3L373.8,665.3L374.8,665.2L375.6,665.0L376.4,664.8L377.3,664.5L378.1,664.5L378.9,664.8L379.6,665.2L380.6,665.5L381.5,665.6L382.5,665.8L383.4,665.8L384.4,665.7L385.4,665.5L386.4,665.3L387.3,665.0L388.3,664.8L389.3,664.6L390.2,664.7L391.2,664.8L392.1,665.1L393.1,665.5L394.1,665.6L395.1,665.4L396.0,665.0L397.0,664.6L398.0,664.4L398.9,664.3L399.9,664.2L400.9,664.2L401.8,664.1L402.8,664.0L403.8,663.9L404.8,663.9L405.7,663.9L406.7,663.9L407.7,664.0L408.6,664.0L409.6,663.9L410.6,663.8L411.6,663.7L412.5,663.6L413.5,663.5L414.5,663.4L415.5,663.3L416.4,663.3L417.4,663.4L418.3,663.4L419.3,663.3L420.2,663.0L421.2,662.6L422.2,662.4L423.2,662.2L424.2,662.1L425.1,662.1L426.1,662.2L427.0,662.3L428.0,662.3L429.0,662.1L430.0,661.7L430.9,661.4L431.8,661.2L432.6,661.3L433.5,661.3L434.3,661.2L435.3,660.9L436.2,660.5L437.2,660.3L438.0,660.1L438.9,660.1L439.8,660.0L440.6,660.1L441.6,660.1L442.6,660.2L443.5,660.2L444.7,660.0L445.9,659.9L446.9,660.0L447.9,660.1L448.8,660.1L449.6,659.9L450.5,659.7L451.3,659.6L452.3,659.5L453.2,659.4L454.2,659.3L455.1,659.3L456.0,659.3L456.8,659.3L457.7,659.4L458.5,659.3L459.4,659.1L460.2,658.8L461.1,658.5L461.9,658.3L462.9,658.2L463.9,658.2L464.9,658.4L465.8,658.6L466.8,658.8L467.8,658.7L468.7,658.5L469.7,658.3L470.7,658.1L471.6,657.9L472.6,657.9L473.5,657.8L474.5,657.9L475.5,657.9L476.5,657.8L477.5,657.6L478.4,657.5L479.6,657.4L480.8,657.6L481.8,657.9L482.8,658.2L483.8,658.4L484.9,658.3L486.1,658.2L486.9,658.3L487.6,658.2L488.8,657.8L490.0,657.2L491.0,656.8L492.0,656.5L493.0,656.2L493.9,656.0L494.8,655.9L495.8,655.8L496.8,655.6L497.7,655.5L498.7,655.3L499.7,655.2L500.5,655.2L501.3,655.2L502.2,655.4L502.9,655.9L503.6,656.2L504.6,656.1L505.6,655.8L506.5,655.6L507.5,655.5L508.4,655.7L509.4,655.7L510.3,655.6L511.3,654.9L512.3,654.6L513.3,654.6L514.3,654.9L515.2,655.4L516.4,656.2L517.6,656.8L518.4,656.9L519.3,656.5L520.1,656.3L521.0,656.0L522.0,655.9L522.9,656.0L523.7,656.4L524.6,657.0L525.4,657.4L526.2,657.4L527.0,657.1L527.9,657.1L529.0,657.3L530.2,657.5L531.2,657.3L532.1,656.6L532.9,655.8L533.8,654.7L534.6,654.1L535.4,653.8L536.3,653.8L537.1,653.8L538.0,653.9L538.9,654.0L539.9,653.9L540.7,653.6L541.4,653.4L542.4,653.7L543.3,654.3L544.3,654.9L545.3,655.4L546.2,655.9L547.2,656.3L548.1,656.6L549.1,656.7L550.1,656.4L551.1,655.9L552.0,655.3L553.2,654.8L554.4,654.8L555.2,655.3L556.0,656.4L556.9,656.9L557.9,656.9L558.8,656.4L559.8,656.1L560.8,655.8L561.7,655.7L562.7,655.6L563.6,655.4L564.6,655.2L565.6,655.0L566.5,654.8L567.5,654.7L568.5,654.6L569.5,654.5L570.4,654.3L571.3,654.0L572.1,653.6L573.0,653.1L573.8,652.9L574.8,652.9L575.7,653.1L576.7,653.3L577.5,653.5L578.3,653.8L579.2,653.7L580.3,653.2L581.5,652.9L582.3,653.0L583.2,653.7L584.0,654.3L585.0,654.8L586.0,655.2L586.9,655.4L587.9,655.4L588.8,655.2L589.8,654.9L590.8,654.5L591.7,654.0L592.7,653.4L593.7,653.1L594.5,653.1L595.4,653.4L596.2,653.7L597.1,653.9L597.9,653.9L598.8,653.9L599.6,653.8L600.5,653.8L601.4,653.8L602.4,653.8L603.3,653.9L604.3,654.0L605.3,654.2L606.3,654.6L607.2,655.3L608.2,656.0L609.2,656.4L610.1,656.4L611.1,656.3L612.1,656.2L613.1,656.0L614.1,656.0L615.2,656.2L616.4,656.3L617.2,656.2L618.1,655.8L618.9,655.4L619.8,655.1L620.8,654.7L621.7,654.3L622.6,654.1L623.4,653.9L624.2,653.9L625.4,654.0L626.6,654.3L627.6,654.3L628.5,654.2L629.5,654.4L630.2,654.9L630.9,655.4L631.9,655.7L632.9,655.6L633.9,655.5L634.8,655.2L635.8,654.9L636.6,654.6L637.5,654.4L638.3,654.2L639.2,654.0L640.2,653.8L641.1,653.7L642.1,653.7L643.1,653.8L644.0,653.8L645.0,653.6L646.0,653.3L647.0,653.2L647.9,653.2L648.9,652.9L649.9,652.5L650.9,652.1L651.7,651.9L652.6,651.7L653.4,651.5L654.3,651.2L655.5,650.7L656.6,650.3L657.6,650.0L658.6,649.9L659.6,649.6L660.8,649.3L661.9,649.1L662.9,649.2L663.9,649.5L664.9,649.6L666.1,649.4L667.3,648.9L668.2,648.6L669.2,648.4L670.2,648.3L671.2,648.3L672.2,648.4L673.1,648.6L674.3,648.8L675.5,648.8L676.3,648.6L677.2,648.3L678.0,648.0L678.9,647.8L679.9,647.7L680.8,647.6L681.6,647.6L682.5,647.6L683.3,647.8L684.1,648.0L684.9,648.3L685.8,648.6L686.9,648.9L688.1,648.9L689.1,648.8L690.1,648.4L691.1,648.3L692.0,648.2L693.0,648.6L694.0,649.2L694.9,649.4L695.7,649.1L696.4,648.2L697.6,647.4L698.7,646.9L699.6,646.6L700.4,646.6L701.3,646.5L702.2,646.6L703.1,646.7L704.1,647.0L705.1,647.3L706.0,647.3L707.0,647.0L708.0,646.5L709.0,646.3L710.0,646.2L710.9,646.4L711.9,646.5L712.9,646.4L713.8,646.0L714.8,645.4L715.7,644.9L716.7,644.5L717.7,644.2L718.7,644.2L719.6,644.3L720.6,644.2L721.4,643.8L722.2,643.2L723.0,642.7L723.9,642.5L724.7,642.4L725.6,642.3L726.4,642.1L727.6,641.7L728.8,641.5L729.6,641.6L730.4,641.9L731.3,641.7L732.5,641.1L733.6,640.3L734.5,639.9L735.3,639.9L736.2,639.9L737.1,640.1L737.8,640.4L738.5,640.6L739.2,640.4L740.0,640.3L741.2,640.6L742.4,640.8L743.2,640.6L744.0,640.0L744.8,639.6L745.8,639.2L746.7,639.0L747.7,638.7L748.7,638.4L749.6,638.0L750.6,637.9L751.6,637.8L752.6,638.0L753.6,637.9L754.5,637.7L755.5,637.2L756.4,636.7L757.4,636.2L758.4,635.7L759.4,635.3L760.3,635.0L761.3,634.7L762.3,634.3L763.2,633.9L764.2,633.4L765.1,633.4L765.9,633.6L766.8,634.3L767.6,635.1L768.3,636.1L769.0,636.8L769.7,637.1L770.4,637.9L771.2,639.5L772.0,640.5L773.1,640.0L774.3,638.7L775.1,638.2L776.0,638.6L776.8,638.7L777.7,638.5L778.7,638.0L779.6,638.3L780.6,639.2L781.6,640.0L782.8,640.0L784.0,639.2L784.8,638.5L785.6,638.0L786.5,637.8L787.4,637.7L788.4,637.3L789.4,636.4L790.4,635.3L791.3,634.7L792.3,634.6L793.3,634.4L794.2,634.5L795.2,634.8L796.1,634.7L797.1,633.9L798.1,632.8L799.1,632.1L800.0,632.1L801.0,632.4L801.9,632.9L802.9,633.2L803.9,633.2L804.9,633.1L805.8,632.8L806.8,632.6L807.7,632.7L808.7,632.9L809.7,632.6L810.7,631.7L811.7,631.1L812.6,631.1L813.6,631.7L814.5,631.9L815.4,631.8L816.2,631.3L817.1,630.8L817.9,630.6L819.1,630.8L820.3,631.3L821.1,631.7L822.0,632.1L822.8,632.2L823.6,632.1L824.4,631.8L825.3,631.9L826.2,632.5L827.1,633.5L828.3,634.4L829.5,635.4L830.3,636.6L831.0,637.3L832.0,637.3L832.9,636.7L833.7,636.0L834.5,635.7L835.4,635.9L836.3,636.7L837.1,637.5L837.8,639.7L838.8,641.1L839.8,641.6L840.7,641.0L841.7,641.6L842.6,642.2L843.4,641.7L844.1,640.4L845.1,639.2L846.0,638.1L846.7,636.9L847.4,636.0L848.4,635.4L849.4,635.6L850.4,636.3L851.3,636.7L852.3,636.6L853.3,635.9L854.5,635.3L855.7,634.9L856.5,634.7L857.4,634.7L858.3,634.8L859.1,634.7L860.1,634.4L861.1,633.9L862.0,633.5L863.0,633.0L864.0,632.5L865.0,632.0L865.9,631.6L866.8,631.2L867.7,631.0L868.6,630.8L869.4,630.6L870.3,630.6L871.2,630.9L872.0,631.1L872.9,631.1L873.8,630.7L874.7,630.4L875.5,630.2L876.4,630.1L877.3,630.0L878.1,630.0L879.0,629.8L879.9,629.6L880.8,629.3L881.6,629.1L882.5,628.8L883.4,628.6L884.2,628.4L885.1,628.2L885.9,628.0L886.8,627.5L887.9,626.8L889.0,626.3L890.1,626.5L891.2,626.7L892.0,626.5L892.9,625.8L893.8,625.1L894.7,624.6L895.6,624.5L896.4,624.7L897.3,624.7L898.2,624.5L899.0,624.4L899.9,624.6L900.7,624.8L901.6,624.6L902.5,624.1L903.4,623.7L904.3,623.4L905.1,623.3L906.0,623.2L906.9,623.4L907.8,623.7L908.6,623.9L909.5,623.8L910.4,623.2L911.3,622.7L912.1,622.4L913.0,622.1L913.9,621.6L914.8,621.3L915.6,621.3L916.5,621.6L917.3,622.1L918.2,622.6L919.1,622.9L920.0,622.9L920.8,622.5L921.7,622.6L922.6,623.2L923.5,623.7L924.5,623.7L925.5,623.0L926.5,622.6L927.5,622.4L928.6,622.5L929.6,622.6L930.7,622.8L931.7,623.2L932.9,623.8L934.0,624.2" fill="none" stroke="#2f7ff0" stroke-width="1.6" stroke-linejoin="round"/>
<text x="317.6" y="670" class="nl" textLength="39.8" lengthAdjust="spacing">2020</text>
<text x="517.6" y="670" class="nl" textLength="39.8" lengthAdjust="spacing">2022</text>
<text x="718.4" y="670" class="nl" textLength="39.8" lengthAdjust="spacing">2024</text>
<text x="918" y="670" class="nl" textLength="19.5" lengthAdjust="spacing">20</text>
<text x="939" y="670" class="nl" style="fill:#b8b0a8;letter-spacing:1.6px">...</text>
<path d="M143,616.5L163.5,616.5L163.5,676M934.5,676L934.5,616.5L956,616.5M163.5,616.5L934.5,616.5" fill="none" stroke="#cccccc" stroke-width="1"/>
<rect x="157.25" y="634.6" width="11.9" height="22.6" fill="#f2f2f2" stroke="#9a9a9a" stroke-width="1.5"/>
<path d="M161.6,640V652M164.8,640V652" stroke="#999999" stroke-width="1.5"/>
<rect x="928.55" y="634.6" width="11.4" height="22.6" fill="#f2f2f2" stroke="#9a9a9a" stroke-width="1.5"/>
<path d="M932.6,640V652M935.9,640V652" stroke="#999999" stroke-width="1.5"/>
<rect x="142" y="676" width="814" height="22.5" fill="#f2f2f2"/>
<rect x="163" y="676" width="772" height="22.5" fill="#cccccc"/>
<rect x="142.3" y="676.5" width="20.2" height="21.6" fill="#e6e6e6" stroke="#cccccc"/>
<rect x="935.5" y="676.5" width="20" height="21.6" fill="#e6e6e6" stroke="#cccccc"/>
<path d="M151,688L155,683.8L155,692.2Z" fill="#333"/>
<path d="M948,688L944,683.8L944,692.2Z" fill="#333"/>
<path d="M544.5,682V691M549,682V691M553.5,682V691" stroke="#333" stroke-width="1.6"/>
<path d="M39.5,728.5H55" stroke="#2f7ff0" stroke-width="3" stroke-linecap="round"/>
<text x="64" y="732.4" class="lg">基準価額</text>
<path d="M149,728.5H164.5" stroke="#fb82a8" stroke-width="3" stroke-linecap="round"/>
<text x="173.5" y="732.4" class="lg">分配金込･再投資後の基準価額</text>
<rect x="399.2" y="716.2" width="18.5" height="18.5" fill="#06936f"/>
<text x="424.5" y="732.4" class="lg">純資産総額</text>
</svg>
</body></html>
